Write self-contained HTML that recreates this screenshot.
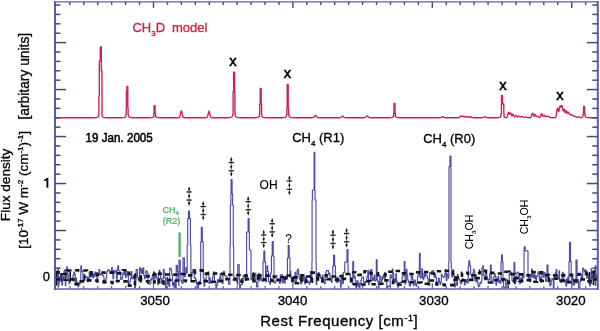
<!DOCTYPE html>
<html><head><meta charset="utf-8"><title>CH3D model spectrum</title>
<style>html,body{margin:0;padding:0;background:#fff;width:600px;height:331px;overflow:hidden}svg{display:block;will-change:transform;filter:blur(0.3px)}</style>
</head><body>
<svg width="600" height="331" viewBox="0 0 600 331">
<rect width="600" height="331" fill="#fff"/>
<path d="M55.50,117.70 L55.75,117.70 L56.00,117.70 L56.25,117.70 L56.50,117.70 L56.75,117.70 L57.00,117.70 L57.25,117.70 L57.50,117.70 L57.75,117.70 L58.00,117.70 L58.25,117.70 L58.50,117.70 L58.75,117.70 L59.00,117.70 L59.25,117.70 L59.50,117.70 L59.75,117.70 L60.00,117.70 L60.25,117.70 L60.50,117.70 L60.75,117.70 L61.00,117.70 L61.25,117.70 L61.50,117.70 L61.75,117.70 L62.00,117.70 L62.25,117.70 L62.50,117.70 L62.75,117.70 L63.00,117.70 L63.25,117.70 L63.50,117.70 L63.75,117.70 L64.00,117.70 L64.25,117.70 L64.50,117.70 L64.75,117.70 L65.00,117.70 L65.25,117.70 L65.50,117.70 L65.75,117.70 L66.00,117.70 L66.25,117.70 L66.50,117.70 L66.75,117.70 L67.00,117.70 L67.25,117.70 L67.50,117.70 L67.75,117.70 L68.00,117.70 L68.25,117.70 L68.50,117.70 L68.75,117.70 L69.00,117.70 L69.25,117.70 L69.50,117.70 L69.75,117.70 L70.00,117.70 L70.25,117.70 L70.50,117.70 L70.75,117.70 L71.00,117.70 L71.25,117.70 L71.50,117.70 L71.75,117.70 L72.00,117.70 L72.25,117.70 L72.50,117.70 L72.75,117.70 L73.00,117.70 L73.25,117.70 L73.50,117.70 L73.75,117.70 L74.00,117.70 L74.25,117.70 L74.50,117.70 L74.75,117.70 L75.00,117.70 L75.25,117.70 L75.50,117.70 L75.75,117.70 L76.00,117.70 L76.25,117.70 L76.50,117.70 L76.75,117.70 L77.00,117.70 L77.25,117.70 L77.50,117.70 L77.75,117.70 L78.00,117.70 L78.25,117.70 L78.50,117.70 L78.75,117.70 L79.00,117.70 L79.25,117.70 L79.50,117.70 L79.75,117.70 L80.00,117.70 L80.25,117.70 L80.50,117.70 L80.75,117.70 L81.00,117.70 L81.25,117.70 L81.50,117.70 L81.75,117.70 L82.00,117.70 L82.25,117.70 L82.50,117.70 L82.75,117.70 L83.00,117.70 L83.25,117.70 L83.50,117.70 L83.75,117.70 L84.00,117.70 L84.25,117.70 L84.50,117.70 L84.75,117.70 L85.00,117.70 L85.25,117.70 L85.50,117.70 L85.75,117.70 L86.00,117.70 L86.25,117.70 L86.50,117.70 L86.75,117.70 L87.00,117.70 L87.25,117.70 L87.50,117.70 L87.75,117.70 L88.00,117.70 L88.25,117.70 L88.50,117.70 L88.75,117.70 L89.00,117.70 L89.25,117.70 L89.50,117.70 L89.75,117.70 L90.00,117.70 L90.25,117.70 L90.50,117.70 L90.75,117.70 L91.00,117.70 L91.25,117.70 L91.50,117.70 L91.75,117.70 L92.00,117.70 L92.25,117.70 L92.50,117.70 L92.75,117.70 L93.00,117.70 L93.25,117.70 L93.50,117.70 L93.75,117.70 L94.00,117.70 L94.25,117.70 L94.50,117.70 L94.75,117.70 L95.00,117.70 L95.25,117.69 L95.50,117.68 L95.75,117.67 L96.00,117.66 L96.25,117.63 L96.50,117.59 L96.75,117.53 L97.00,117.45 L97.25,117.35 L97.50,117.21 L97.75,117.03 L98.00,116.81 L98.25,116.55 L98.50,116.27 L98.75,115.95 L98.80,114.00 L98.90,114.00 L98.90,96.00 L99.00,96.00 L99.00,96.00 L99.25,96.00 L99.25,96.00 L99.30,96.00 L99.30,60.80 L99.50,60.80 L99.50,60.80 L99.75,60.80 L99.75,60.80 L100.00,60.80 L100.00,60.80 L100.25,60.80 L100.25,60.80 L100.30,60.80 L100.30,47.00 L100.50,47.00 L100.50,47.00 L100.75,47.00 L100.75,47.00 L101.00,47.00 L101.00,47.00 L101.25,47.00 L101.25,47.00 L101.30,47.00 L101.30,71.00 L101.50,71.00 L101.50,71.00 L101.75,71.00 L101.75,71.00 L101.90,71.00 L101.90,71.00 L102.00,71.00 L102.00,115.89 L102.25,116.20 L102.50,116.50 L102.75,116.76 L103.00,116.99 L103.25,117.17 L103.50,117.32 L103.75,117.44 L104.00,117.52 L104.25,117.58 L104.50,117.62 L104.75,117.65 L105.00,117.67 L105.25,117.68 L105.50,117.69 L105.75,117.69 L106.00,117.70 L106.25,117.70 L106.50,117.70 L106.75,117.70 L107.00,117.70 L107.25,117.70 L107.50,117.70 L107.75,117.70 L108.00,117.70 L108.25,117.70 L108.50,117.70 L108.75,117.70 L109.00,117.70 L109.25,117.70 L109.50,117.70 L109.75,117.70 L110.00,117.70 L110.25,117.70 L110.50,117.70 L110.75,117.70 L111.00,117.70 L111.25,117.70 L111.50,117.70 L111.75,117.70 L112.00,117.70 L112.25,117.70 L112.50,117.70 L112.75,117.70 L113.00,117.70 L113.25,117.70 L113.50,117.70 L113.75,117.70 L114.00,117.70 L114.25,117.70 L114.50,117.70 L114.75,117.70 L115.00,117.70 L115.25,117.70 L115.50,117.70 L115.75,117.70 L116.00,117.70 L116.25,117.70 L116.50,117.70 L116.75,117.70 L117.00,117.70 L117.25,117.70 L117.50,117.70 L117.75,117.70 L118.00,117.70 L118.25,117.70 L118.50,117.70 L118.75,117.70 L119.00,117.70 L119.25,117.70 L119.50,117.70 L119.75,117.70 L120.00,117.70 L120.25,117.70 L120.50,117.70 L120.75,117.70 L121.00,117.70 L121.25,117.70 L121.50,117.70 L121.75,117.70 L122.00,117.70 L122.25,117.70 L122.50,117.69 L122.75,117.69 L123.00,117.68 L123.25,117.66 L123.50,117.63 L123.75,117.59 L124.00,117.54 L124.25,117.46 L124.50,117.36 L124.75,117.22 L125.00,117.06 L125.25,116.87 L125.50,116.65 L125.75,116.41 L126.00,114.50 L126.20,114.50 L126.20,108.00 L126.25,108.00 L126.25,108.00 L126.40,108.00 L126.40,90.70 L126.50,90.70 L126.50,90.70 L126.75,90.70 L126.75,90.70 L126.90,90.70 L126.90,86.40 L127.00,86.40 L127.00,86.40 L127.25,86.40 L127.25,86.40 L127.50,86.40 L127.50,86.40 L127.75,86.40 L127.75,86.40 L127.80,86.40 L127.80,108.00 L128.00,108.00 L128.00,108.00 L128.10,108.00 L128.10,114.50 L128.25,114.50 L128.25,114.50 L128.30,114.50 L128.30,116.08 L128.50,116.27 L128.75,116.51 L129.00,116.74 L129.25,116.95 L129.50,117.13 L129.75,117.28 L130.00,117.40 L130.25,117.49 L130.50,117.56 L130.75,117.61 L131.00,117.64 L131.25,117.67 L131.50,117.68 L131.75,117.69 L132.00,117.69 L132.25,117.70 L132.50,117.70 L132.75,117.70 L133.00,117.70 L133.25,117.70 L133.50,117.70 L133.75,117.70 L134.00,117.70 L134.25,117.70 L134.50,117.70 L134.75,117.70 L135.00,117.70 L135.25,117.70 L135.50,117.70 L135.75,117.70 L136.00,117.70 L136.25,117.70 L136.50,117.70 L136.75,117.70 L137.00,117.70 L137.25,117.70 L137.50,117.70 L137.75,117.70 L138.00,117.70 L138.25,117.70 L138.50,117.70 L138.75,117.70 L139.00,117.70 L139.25,117.70 L139.50,117.70 L139.75,117.70 L140.00,117.70 L140.25,117.70 L140.50,117.70 L140.75,117.70 L141.00,117.70 L141.25,117.70 L141.50,117.70 L141.75,117.70 L142.00,117.70 L142.25,117.70 L142.50,117.70 L142.75,117.70 L143.00,117.70 L143.25,117.70 L143.50,117.70 L143.75,117.70 L144.00,117.70 L144.25,117.70 L144.50,117.70 L144.75,117.70 L145.00,117.70 L145.25,117.70 L145.50,117.70 L145.75,117.70 L146.00,117.70 L146.25,117.70 L146.50,117.70 L146.75,117.70 L147.00,117.70 L147.25,117.70 L147.50,117.70 L147.75,117.70 L148.00,117.70 L148.25,117.70 L148.50,117.70 L148.75,117.70 L149.00,117.70 L149.25,117.70 L149.50,117.70 L149.75,117.70 L150.00,117.70 L150.25,117.70 L150.50,117.69 L150.75,117.69 L151.00,117.68 L151.25,117.66 L151.50,117.64 L151.75,117.60 L152.00,117.54 L152.25,117.47 L152.50,117.37 L152.75,117.24 L153.00,117.09 L153.25,116.91 L153.50,116.73 L153.75,116.55 L153.80,113.00 L154.00,113.00 L154.00,113.00 L154.10,113.00 L154.10,105.60 L154.25,105.60 L154.25,105.60 L154.50,105.60 L154.50,105.60 L154.75,105.60 L154.75,105.60 L155.00,105.60 L155.00,105.60 L155.10,105.60 L155.10,113.00 L155.25,113.00 L155.25,113.00 L155.50,113.00 L155.50,116.32 L155.75,116.47 L156.00,116.66 L156.25,116.84 L156.50,117.02 L156.75,117.18 L157.00,117.32 L157.25,117.43 L157.50,117.51 L157.75,117.58 L158.00,117.62 L158.25,117.65 L158.50,117.67 L158.75,117.68 L159.00,117.69 L159.25,117.70 L159.50,117.70 L159.75,117.70 L160.00,117.70 L160.25,117.70 L160.50,117.70 L160.75,117.70 L161.00,117.70 L161.25,117.70 L161.50,117.70 L161.75,117.70 L162.00,117.70 L162.25,117.70 L162.50,117.70 L162.75,117.70 L163.00,117.70 L163.25,117.70 L163.50,117.70 L163.75,117.70 L164.00,117.70 L164.25,117.70 L164.50,117.70 L164.75,117.70 L165.00,117.70 L165.25,117.70 L165.50,117.70 L165.75,117.70 L166.00,117.70 L166.25,117.70 L166.50,117.70 L166.75,117.70 L167.00,117.70 L167.25,117.70 L167.50,117.70 L167.75,117.70 L168.00,117.70 L168.25,117.70 L168.50,117.70 L168.75,117.70 L169.00,117.70 L169.25,117.70 L169.50,117.70 L169.75,117.70 L170.00,117.70 L170.25,117.70 L170.50,117.70 L170.75,117.70 L171.00,117.70 L171.25,117.70 L171.50,117.70 L171.75,117.70 L172.00,117.70 L172.25,117.70 L172.50,117.70 L172.75,117.70 L173.00,117.70 L173.25,117.70 L173.50,117.70 L173.75,117.70 L174.00,117.70 L174.25,117.70 L174.50,117.70 L174.75,117.70 L175.00,117.70 L175.25,117.70 L175.50,117.70 L175.75,117.70 L176.00,117.70 L176.25,117.70 L176.50,117.70 L176.75,117.70 L177.00,117.70 L177.25,117.70 L177.50,117.70 L177.75,117.70 L178.00,117.70 L178.25,117.70 L178.50,117.69 L178.75,117.66 L179.00,117.59 L179.25,117.44 L179.50,117.16 L179.75,116.66 L180.00,115.88 L180.25,114.83 L180.50,113.58 L180.75,112.33 L181.00,111.36 L181.25,110.91 L181.50,111.11 L181.75,111.90 L182.00,113.06 L182.25,114.34 L182.50,115.49 L182.75,116.38 L183.00,116.99 L183.25,117.35 L183.50,117.54 L183.75,117.64 L184.00,117.68 L184.25,117.69 L184.50,117.70 L184.75,117.70 L185.00,117.70 L185.25,117.70 L185.50,117.70 L185.75,117.70 L186.00,117.70 L186.25,117.70 L186.50,117.70 L186.75,117.70 L187.00,117.70 L187.25,117.70 L187.50,117.70 L187.75,117.70 L188.00,117.70 L188.25,117.70 L188.50,117.70 L188.75,117.70 L189.00,117.70 L189.25,117.70 L189.50,117.70 L189.75,117.70 L190.00,117.70 L190.25,117.70 L190.50,117.70 L190.75,117.70 L191.00,117.70 L191.25,117.70 L191.50,117.70 L191.75,117.70 L192.00,117.70 L192.25,117.70 L192.50,117.70 L192.75,117.70 L193.00,117.70 L193.25,117.70 L193.50,117.70 L193.75,117.70 L194.00,117.70 L194.25,117.70 L194.50,117.70 L194.75,117.70 L195.00,117.70 L195.25,117.70 L195.50,117.70 L195.75,117.70 L196.00,117.70 L196.25,117.70 L196.50,117.70 L196.75,117.70 L197.00,117.70 L197.25,117.70 L197.50,117.70 L197.75,117.70 L198.00,117.70 L198.25,117.70 L198.50,117.70 L198.75,117.70 L199.00,117.70 L199.25,117.70 L199.50,117.70 L199.75,117.70 L200.00,117.70 L200.25,117.70 L200.50,117.70 L200.75,117.70 L201.00,117.70 L201.25,117.70 L201.50,117.70 L201.75,117.70 L202.00,117.70 L202.25,117.70 L202.50,117.70 L202.75,117.70 L203.00,117.70 L203.25,117.70 L203.50,117.70 L203.75,117.70 L204.00,117.70 L204.25,117.70 L204.50,117.70 L204.75,117.70 L205.00,117.70 L205.25,117.70 L205.50,117.70 L205.75,117.70 L206.00,117.69 L206.25,117.68 L206.50,117.65 L206.75,117.58 L207.00,117.42 L207.25,117.12 L207.50,116.60 L207.75,115.81 L208.00,114.77 L208.25,113.58 L208.50,112.44 L208.75,111.60 L209.00,111.30 L209.25,111.60 L209.50,112.44 L209.75,113.58 L210.00,114.77 L210.25,115.81 L210.50,116.60 L210.75,117.12 L211.00,117.42 L211.25,117.58 L211.50,117.65 L211.75,117.68 L212.00,117.69 L212.25,117.70 L212.50,117.70 L212.75,117.70 L213.00,117.70 L213.25,117.70 L213.50,117.70 L213.75,117.70 L214.00,117.70 L214.25,117.70 L214.50,117.70 L214.75,117.70 L215.00,117.70 L215.25,117.70 L215.50,117.70 L215.75,117.70 L216.00,117.70 L216.25,117.70 L216.50,117.70 L216.75,117.70 L217.00,117.70 L217.25,117.70 L217.50,117.70 L217.75,117.70 L218.00,117.70 L218.25,117.70 L218.50,117.70 L218.75,117.70 L219.00,117.70 L219.25,117.70 L219.50,117.70 L219.75,117.70 L220.00,117.70 L220.25,117.70 L220.50,117.70 L220.75,117.70 L221.00,117.70 L221.25,117.70 L221.50,117.70 L221.75,117.70 L222.00,117.70 L222.25,117.70 L222.50,117.70 L222.75,117.70 L223.00,117.70 L223.25,117.70 L223.50,117.70 L223.75,117.70 L224.00,117.70 L224.25,117.70 L224.50,117.70 L224.75,117.70 L225.00,117.70 L225.25,117.70 L225.50,117.70 L225.75,117.70 L226.00,117.70 L226.25,117.70 L226.50,117.70 L226.75,117.70 L227.00,117.70 L227.25,117.70 L227.50,117.70 L227.75,117.70 L228.00,117.70 L228.25,117.70 L228.50,117.70 L228.75,117.69 L229.00,117.69 L229.25,117.68 L229.50,117.67 L229.75,117.65 L230.00,117.63 L230.25,117.59 L230.50,117.53 L230.75,117.45 L231.00,117.35 L231.25,117.22 L231.50,117.05 L231.75,116.86 L232.00,116.63 L232.25,116.38 L232.50,116.12 L232.75,115.86 L232.80,114.00 L233.00,114.00 L233.00,114.00 L233.10,114.00 L233.10,91.40 L233.25,91.40 L233.25,91.40 L233.50,91.40 L233.50,91.40 L233.60,91.40 L233.60,72.20 L233.75,72.20 L233.75,72.20 L234.00,72.20 L234.00,72.20 L234.25,72.20 L234.25,72.20 L234.50,72.20 L234.50,72.20 L234.60,72.20 L234.60,91.40 L234.75,91.40 L234.75,91.40 L234.90,91.40 L234.90,114.00 L235.00,114.00 L235.00,114.00 L235.25,114.00 L235.25,114.00 L235.30,114.00 L235.30,115.91 L235.50,116.12 L235.75,116.38 L236.00,116.63 L236.25,116.86 L236.50,117.05 L236.75,117.22 L237.00,117.35 L237.25,117.45 L237.50,117.53 L237.75,117.59 L238.00,117.63 L238.25,117.65 L238.50,117.67 L238.75,117.68 L239.00,117.69 L239.25,117.69 L239.50,117.70 L239.75,117.70 L240.00,117.70 L240.25,117.70 L240.50,117.70 L240.75,117.70 L241.00,117.70 L241.25,117.70 L241.50,117.70 L241.75,117.70 L242.00,117.70 L242.25,117.70 L242.50,117.70 L242.75,117.70 L243.00,117.70 L243.25,117.70 L243.50,117.70 L243.75,117.70 L244.00,117.70 L244.25,117.70 L244.50,117.70 L244.75,117.70 L245.00,117.70 L245.25,117.70 L245.50,117.70 L245.75,117.70 L246.00,117.70 L246.25,117.70 L246.50,117.70 L246.75,117.70 L247.00,117.70 L247.25,117.70 L247.50,117.70 L247.75,117.70 L248.00,117.70 L248.25,117.70 L248.50,117.70 L248.75,117.70 L249.00,117.70 L249.25,117.70 L249.50,117.70 L249.75,117.70 L250.00,117.70 L250.25,117.70 L250.50,117.70 L250.75,117.70 L251.00,117.70 L251.25,117.70 L251.50,117.70 L251.75,117.70 L252.00,117.70 L252.25,117.70 L252.50,117.70 L252.75,117.70 L253.00,117.70 L253.25,117.70 L253.50,117.70 L253.75,117.70 L254.00,117.70 L254.25,117.70 L254.50,117.70 L254.75,117.70 L255.00,117.70 L255.25,117.70 L255.50,117.70 L255.75,117.69 L256.00,117.69 L256.25,117.68 L256.50,117.67 L256.75,117.64 L257.00,117.61 L257.25,117.56 L257.50,117.50 L257.75,117.41 L258.00,117.29 L258.25,117.15 L258.50,116.98 L258.75,116.78 L259.00,116.57 L259.25,116.36 L259.50,114.50 L259.70,114.50 L259.70,104.00 L259.75,104.00 L259.75,104.00 L260.00,104.00 L260.00,104.00 L260.20,104.00 L260.20,88.50 L260.25,88.50 L260.25,88.50 L260.50,88.50 L260.50,88.50 L260.75,88.50 L260.75,88.50 L261.00,88.50 L261.00,88.50 L261.20,88.50 L261.20,104.00 L261.25,104.00 L261.25,104.00 L261.50,104.00 L261.50,104.00 L261.60,104.00 L261.60,114.50 L261.75,114.50 L261.75,114.50 L261.80,114.50 L261.80,116.40 L262.00,116.57 L262.25,116.78 L262.50,116.98 L262.75,117.15 L263.00,117.29 L263.25,117.41 L263.50,117.50 L263.75,117.56 L264.00,117.61 L264.25,117.64 L264.50,117.67 L264.75,117.68 L265.00,117.69 L265.25,117.69 L265.50,117.70 L265.75,117.70 L266.00,117.70 L266.25,117.70 L266.50,117.70 L266.75,117.70 L267.00,117.70 L267.25,117.70 L267.50,117.70 L267.75,117.70 L268.00,117.70 L268.25,117.70 L268.50,117.70 L268.75,117.70 L269.00,117.70 L269.25,117.70 L269.50,117.70 L269.75,117.70 L270.00,117.70 L270.25,117.70 L270.50,117.70 L270.75,117.70 L271.00,117.70 L271.25,117.70 L271.50,117.70 L271.75,117.70 L272.00,117.70 L272.25,117.70 L272.50,117.70 L272.75,117.70 L273.00,117.70 L273.25,117.70 L273.50,117.70 L273.75,117.70 L274.00,117.70 L274.25,117.70 L274.50,117.70 L274.75,117.70 L275.00,117.70 L275.25,117.70 L275.50,117.70 L275.75,117.70 L276.00,117.70 L276.25,117.70 L276.50,117.70 L276.75,117.70 L277.00,117.70 L277.25,117.70 L277.50,117.70 L277.75,117.70 L278.00,117.70 L278.25,117.70 L278.50,117.70 L278.75,117.70 L279.00,117.70 L279.25,117.70 L279.50,117.70 L279.75,117.70 L280.00,117.70 L280.25,117.70 L280.50,117.70 L280.75,117.70 L281.00,117.70 L281.25,117.70 L281.50,117.70 L281.75,117.70 L282.00,117.70 L282.25,117.70 L282.50,117.70 L282.75,117.70 L283.00,117.69 L283.25,117.69 L283.50,117.68 L283.75,117.66 L284.00,117.63 L284.25,117.59 L284.50,117.54 L284.75,117.46 L285.00,117.36 L285.25,117.22 L285.50,117.06 L285.75,116.87 L286.00,116.65 L286.25,116.41 L286.50,116.18 L286.60,114.50 L286.75,114.50 L286.75,114.50 L286.90,114.50 L286.90,108.00 L287.00,108.00 L287.00,108.00 L287.20,108.00 L287.20,84.50 L287.25,84.50 L287.25,84.50 L287.50,84.50 L287.50,84.50 L287.75,84.50 L287.75,84.50 L288.00,84.50 L288.00,84.50 L288.20,84.50 L288.20,108.00 L288.25,108.00 L288.25,108.00 L288.50,108.00 L288.50,108.00 L288.60,108.00 L288.60,114.50 L288.75,114.50 L288.75,114.50 L288.90,114.50 L288.90,116.18 L289.00,116.27 L289.25,116.51 L289.50,116.74 L289.75,116.95 L290.00,117.13 L290.25,117.28 L290.50,117.40 L290.75,117.49 L291.00,117.56 L291.25,117.61 L291.50,117.64 L291.75,117.67 L292.00,117.68 L292.25,117.69 L292.50,117.69 L292.75,117.70 L293.00,117.70 L293.25,117.70 L293.50,117.70 L293.75,117.70 L294.00,117.70 L294.25,117.70 L294.50,117.70 L294.75,117.70 L295.00,117.70 L295.25,117.70 L295.50,117.70 L295.75,117.70 L296.00,117.70 L296.25,117.70 L296.50,117.70 L296.75,117.70 L297.00,117.70 L297.25,117.70 L297.50,117.70 L297.75,117.70 L298.00,117.70 L298.25,117.70 L298.50,117.70 L298.75,117.70 L299.00,117.70 L299.25,117.70 L299.50,117.70 L299.75,117.70 L300.00,117.70 L300.25,117.70 L300.50,117.70 L300.75,117.70 L301.00,117.70 L301.25,117.70 L301.50,117.70 L301.75,117.70 L302.00,117.70 L302.25,117.70 L302.50,117.70 L302.75,117.70 L303.00,117.70 L303.25,117.70 L303.50,117.70 L303.75,117.70 L304.00,117.70 L304.25,117.70 L304.50,117.70 L304.75,117.70 L305.00,117.70 L305.25,117.70 L305.50,117.70 L305.75,117.70 L306.00,117.70 L306.25,117.70 L306.50,117.70 L306.75,117.70 L307.00,117.70 L307.25,117.70 L307.50,117.70 L307.75,117.70 L308.00,117.70 L308.25,117.70 L308.50,117.70 L308.75,117.70 L309.00,117.70 L309.25,117.70 L309.50,117.70 L309.75,117.70 L310.00,117.70 L310.25,117.70 L310.50,117.70 L310.75,117.70 L311.00,117.70 L311.25,117.70 L311.50,117.70 L311.75,117.70 L312.00,117.70 L312.25,117.69 L312.50,117.69 L312.75,117.67 L313.00,117.63 L313.25,117.57 L313.50,117.45 L313.75,117.27 L314.00,117.01 L314.25,116.68 L314.50,116.30 L314.75,115.93 L315.00,115.62 L315.25,115.43 L315.50,115.41 L315.75,115.57 L316.00,115.86 L316.25,116.23 L316.50,116.61 L316.75,116.95 L317.00,117.23 L317.25,117.42 L317.50,117.55 L317.75,117.62 L318.00,117.66 L318.25,117.68 L318.50,117.69 L318.75,117.70 L319.00,117.70 L319.25,117.70 L319.50,117.70 L319.75,117.70 L320.00,117.70 L320.25,117.70 L320.50,117.70 L320.75,117.70 L321.00,117.70 L321.25,117.70 L321.50,117.70 L321.75,117.70 L322.00,117.70 L322.25,117.70 L322.50,117.70 L322.75,117.70 L323.00,117.70 L323.25,117.70 L323.50,117.70 L323.75,117.70 L324.00,117.70 L324.25,117.70 L324.50,117.70 L324.75,117.70 L325.00,117.70 L325.25,117.70 L325.50,117.70 L325.75,117.70 L326.00,117.70 L326.25,117.70 L326.50,117.70 L326.75,117.70 L327.00,117.70 L327.25,117.70 L327.50,117.70 L327.75,117.70 L328.00,117.70 L328.25,117.70 L328.50,117.70 L328.75,117.70 L329.00,117.70 L329.25,117.70 L329.50,117.70 L329.75,117.70 L330.00,117.70 L330.25,117.70 L330.50,117.70 L330.75,117.70 L331.00,117.70 L331.25,117.70 L331.50,117.70 L331.75,117.70 L332.00,117.70 L332.25,117.70 L332.50,117.70 L332.75,117.70 L333.00,117.70 L333.25,117.70 L333.50,117.70 L333.75,117.70 L334.00,117.70 L334.25,117.70 L334.50,117.70 L334.75,117.70 L335.00,117.70 L335.25,117.70 L335.50,117.70 L335.75,117.70 L336.00,117.70 L336.25,117.70 L336.50,117.70 L336.75,117.70 L337.00,117.70 L337.25,117.70 L337.50,117.70 L337.75,117.70 L338.00,117.70 L338.25,117.70 L338.50,117.70 L338.75,117.70 L339.00,117.70 L339.25,117.70 L339.50,117.70 L339.75,117.69 L340.00,117.68 L340.25,117.65 L340.50,117.59 L340.75,117.51 L341.00,117.37 L341.25,117.18 L341.50,116.94 L341.75,116.68 L342.00,116.42 L342.25,116.22 L342.50,116.11 L342.75,116.12 L343.00,116.25 L343.25,116.47 L343.50,116.73 L343.75,116.99 L344.00,117.22 L344.25,117.40 L344.50,117.53 L344.75,117.61 L345.00,117.65 L345.25,117.68 L345.50,117.69 L345.75,117.70 L346.00,117.70 L346.25,117.70 L346.50,117.70 L346.75,117.70 L347.00,117.70 L347.25,117.70 L347.50,117.70 L347.75,117.70 L348.00,117.70 L348.25,117.70 L348.50,117.70 L348.75,117.70 L349.00,117.70 L349.25,117.70 L349.50,117.70 L349.75,117.70 L350.00,117.70 L350.25,117.70 L350.50,117.70 L350.75,117.70 L351.00,117.70 L351.25,117.70 L351.50,117.70 L351.75,117.70 L352.00,117.70 L352.25,117.70 L352.50,117.70 L352.75,117.70 L353.00,117.70 L353.25,117.70 L353.50,117.70 L353.75,117.70 L354.00,117.70 L354.25,117.70 L354.50,117.70 L354.75,117.70 L355.00,117.70 L355.25,117.70 L355.50,117.70 L355.75,117.70 L356.00,117.70 L356.25,117.70 L356.50,117.70 L356.75,117.70 L357.00,117.70 L357.25,117.70 L357.50,117.70 L357.75,117.70 L358.00,117.70 L358.25,117.70 L358.50,117.70 L358.75,117.70 L359.00,117.70 L359.25,117.70 L359.50,117.70 L359.75,117.70 L360.00,117.70 L360.25,117.70 L360.50,117.70 L360.75,117.70 L361.00,117.70 L361.25,117.70 L361.50,117.70 L361.75,117.70 L362.00,117.70 L362.25,117.70 L362.50,117.70 L362.75,117.70 L363.00,117.70 L363.25,117.70 L363.50,117.70 L363.75,117.70 L364.00,117.70 L364.25,117.69 L364.50,117.69 L364.75,117.67 L365.00,117.63 L365.25,117.57 L365.50,117.46 L365.75,117.29 L366.00,117.07 L366.25,116.79 L366.50,116.49 L366.75,116.21 L367.00,116.00 L367.25,115.90 L367.50,115.94 L367.75,116.11 L368.00,116.37 L368.25,116.67 L368.50,116.96 L368.75,117.21 L369.00,117.40 L369.25,117.53 L369.50,117.61 L369.75,117.66 L370.00,117.68 L370.25,117.69 L370.50,117.70 L370.75,117.70 L371.00,117.70 L371.25,117.70 L371.50,117.70 L371.75,117.70 L372.00,117.70 L372.25,117.70 L372.50,117.70 L372.75,117.70 L373.00,117.70 L373.25,117.70 L373.50,117.70 L373.75,117.70 L374.00,117.70 L374.25,117.70 L374.50,117.70 L374.75,117.70 L375.00,117.70 L375.25,117.70 L375.50,117.70 L375.75,117.70 L376.00,117.70 L376.25,117.70 L376.50,117.70 L376.75,117.70 L377.00,117.70 L377.25,117.70 L377.50,117.70 L377.75,117.70 L378.00,117.70 L378.25,117.70 L378.50,117.70 L378.75,117.70 L379.00,117.70 L379.25,117.70 L379.50,117.70 L379.75,117.70 L380.00,117.70 L380.25,117.70 L380.50,117.70 L380.75,117.70 L381.00,117.70 L381.25,117.70 L381.50,117.70 L381.75,117.70 L382.00,117.70 L382.25,117.70 L382.50,117.70 L382.75,117.70 L383.00,117.70 L383.25,117.70 L383.50,117.70 L383.75,117.70 L384.00,117.70 L384.25,117.70 L384.50,117.70 L384.75,117.70 L385.00,117.70 L385.25,117.70 L385.50,117.70 L385.75,117.70 L386.00,117.70 L386.25,117.70 L386.50,117.70 L386.75,117.70 L387.00,117.70 L387.25,117.70 L387.50,117.70 L387.75,117.70 L388.00,117.70 L388.25,117.70 L388.50,117.70 L388.75,117.70 L389.00,117.70 L389.25,117.70 L389.50,117.70 L389.75,117.70 L390.00,117.70 L390.25,117.69 L390.50,117.69 L390.75,117.68 L391.00,117.66 L391.25,117.63 L391.50,117.59 L391.75,117.53 L392.00,117.45 L392.25,117.34 L392.50,117.21 L392.75,117.05 L393.00,116.88 L393.25,116.69 L393.50,116.51 L393.70,113.00 L393.75,113.00 L393.75,113.00 L394.00,113.00 L394.00,103.30 L394.25,103.30 L394.25,103.30 L394.50,103.30 L394.50,103.30 L394.75,103.30 L394.75,103.30 L395.00,103.30 L395.00,113.00 L395.25,113.00 L395.25,113.00 L395.30,113.00 L395.30,116.38 L395.50,116.51 L395.75,116.69 L396.00,116.88 L396.25,117.05 L396.50,117.21 L396.75,117.34 L397.00,117.45 L397.25,117.53 L397.50,117.59 L397.75,117.63 L398.00,117.66 L398.25,117.68 L398.50,117.69 L398.75,117.69 L399.00,117.70 L399.25,117.70 L399.50,117.70 L399.75,117.70 L400.00,117.70 L400.25,117.70 L400.50,117.70 L400.75,117.70 L401.00,117.70 L401.25,117.70 L401.50,117.70 L401.75,117.70 L402.00,117.70 L402.25,117.70 L402.50,117.70 L402.75,117.70 L403.00,117.70 L403.25,117.70 L403.50,117.70 L403.75,117.70 L404.00,117.70 L404.25,117.70 L404.50,117.70 L404.75,117.70 L405.00,117.70 L405.25,117.70 L405.50,117.70 L405.75,117.70 L406.00,117.70 L406.25,117.70 L406.50,117.70 L406.75,117.70 L407.00,117.70 L407.25,117.70 L407.50,117.70 L407.75,117.70 L408.00,117.70 L408.25,117.70 L408.50,117.70 L408.75,117.70 L409.00,117.70 L409.25,117.70 L409.50,117.70 L409.75,117.70 L410.00,117.70 L410.25,117.70 L410.50,117.70 L410.75,117.70 L411.00,117.70 L411.25,117.70 L411.50,117.70 L411.75,117.70 L412.00,117.70 L412.25,117.70 L412.50,117.70 L412.75,117.70 L413.00,117.70 L413.25,117.70 L413.50,117.70 L413.75,117.70 L414.00,117.70 L414.25,117.70 L414.50,117.70 L414.75,117.70 L415.00,117.70 L415.25,117.70 L415.50,117.70 L415.75,117.70 L416.00,117.70 L416.25,117.70 L416.50,117.70 L416.75,117.70 L417.00,117.70 L417.25,117.70 L417.50,117.70 L417.75,117.70 L418.00,117.70 L418.25,117.70 L418.50,117.70 L418.75,117.70 L419.00,117.70 L419.25,117.70 L419.50,117.70 L419.75,117.70 L420.00,117.70 L420.25,117.70 L420.50,117.70 L420.75,117.70 L421.00,117.70 L421.25,117.70 L421.50,117.70 L421.75,117.70 L422.00,117.70 L422.25,117.70 L422.50,117.70 L422.75,117.70 L423.00,117.70 L423.25,117.70 L423.50,117.70 L423.75,117.70 L424.00,117.70 L424.25,117.70 L424.50,117.70 L424.75,117.70 L425.00,117.70 L425.25,117.70 L425.50,117.70 L425.75,117.70 L426.00,117.70 L426.25,117.70 L426.50,117.70 L426.75,117.70 L427.00,117.70 L427.25,117.70 L427.50,117.70 L427.75,117.70 L428.00,117.70 L428.25,117.70 L428.50,117.70 L428.75,117.70 L429.00,117.70 L429.25,117.70 L429.50,117.70 L429.75,117.70 L430.00,117.70 L430.25,117.70 L430.50,117.70 L430.75,117.70 L431.00,117.70 L431.25,117.70 L431.50,117.70 L431.75,117.70 L432.00,117.70 L432.25,117.70 L432.50,117.70 L432.75,117.70 L433.00,117.70 L433.25,117.70 L433.50,117.70 L433.75,117.70 L434.00,117.70 L434.25,117.70 L434.50,117.70 L434.75,117.70 L435.00,117.70 L435.25,117.70 L435.50,117.70 L435.75,117.70 L436.00,117.70 L436.25,117.70 L436.50,117.70 L436.75,117.70 L437.00,117.70 L437.25,117.70 L437.50,117.70 L437.75,117.70 L438.00,117.70 L438.25,117.70 L438.50,117.70 L438.75,117.70 L439.00,117.70 L439.25,117.70 L439.50,117.70 L439.75,117.69 L440.00,117.68 L440.25,117.66 L440.50,117.62 L440.75,117.55 L441.00,117.45 L441.25,117.32 L441.50,117.16 L441.75,116.99 L442.00,116.84 L442.25,116.74 L442.50,116.70 L442.75,116.74 L443.00,116.84 L443.25,116.99 L443.50,117.16 L443.75,117.32 L444.00,117.45 L444.25,117.55 L444.50,117.62 L444.75,117.66 L445.00,117.68 L445.25,117.69 L445.50,117.70 L445.75,117.70 L446.00,117.70 L446.25,117.70 L446.50,117.70 L446.75,117.70 L447.00,117.70 L447.25,117.70 L447.50,117.70 L447.75,117.70 L448.00,117.70 L448.25,117.70 L448.50,117.70 L448.75,117.70 L449.00,117.70 L449.25,117.70 L449.50,117.70 L449.75,117.70 L450.00,117.70 L450.25,117.70 L450.50,117.70 L450.75,117.70 L451.00,117.70 L451.25,117.70 L451.50,117.70 L451.75,117.70 L452.00,117.70 L452.25,117.70 L452.50,117.70 L452.75,117.70 L453.00,117.70 L453.25,117.70 L453.50,117.70 L453.75,117.70 L454.00,117.70 L454.25,117.70 L454.50,117.70 L454.75,117.70 L455.00,117.70 L455.25,117.70 L455.50,117.70 L455.75,117.70 L456.00,117.70 L456.25,117.70 L456.50,117.70 L456.75,117.70 L457.00,117.70 L457.25,117.70 L457.50,117.70 L457.75,117.70 L458.00,117.70 L458.25,117.70 L458.50,117.70 L458.75,117.69 L459.00,117.67 L459.25,117.62 L459.50,117.52 L459.75,117.33 L460.00,117.05 L460.25,116.69 L460.50,116.30 L460.75,116.00 L461.00,115.87 L461.25,115.95 L461.50,116.15 L461.75,116.38 L462.00,116.51 L462.25,116.49 L462.50,116.36 L462.75,116.21 L463.00,116.17 L463.25,116.27 L463.50,116.51 L463.75,116.79 L464.00,117.02 L464.25,117.11 L464.50,117.04 L464.75,116.85 L465.00,116.59 L465.25,116.38 L465.50,116.30 L465.75,116.38 L466.00,116.59 L466.25,116.86 L466.50,117.07 L466.75,117.17 L467.00,117.13 L467.25,116.96 L467.50,116.75 L467.75,116.57 L468.00,116.50 L468.25,116.57 L468.50,116.77 L468.75,117.02 L469.00,117.25 L469.25,117.41 L469.50,117.48 L469.75,117.44 L470.00,117.32 L470.25,117.13 L470.50,116.92 L470.75,116.76 L471.00,116.70 L471.25,116.76 L471.50,116.93 L471.75,117.14 L472.00,117.34 L472.25,117.50 L472.50,117.60 L472.75,117.66 L473.00,117.68 L473.25,117.69 L473.50,117.70 L473.75,117.70 L474.00,117.70 L474.25,117.70 L474.50,117.70 L474.75,117.70 L475.00,117.70 L475.25,117.70 L475.50,117.70 L475.75,117.70 L476.00,117.70 L476.25,117.70 L476.50,117.70 L476.75,117.70 L477.00,117.70 L477.25,117.70 L477.50,117.70 L477.75,117.70 L478.00,117.70 L478.25,117.70 L478.50,117.70 L478.75,117.70 L479.00,117.70 L479.25,117.70 L479.50,117.70 L479.75,117.70 L480.00,117.70 L480.25,117.70 L480.50,117.70 L480.75,117.70 L481.00,117.70 L481.25,117.70 L481.50,117.70 L481.75,117.70 L482.00,117.69 L482.25,117.68 L482.50,117.66 L482.75,117.63 L483.00,117.56 L483.25,117.47 L483.50,117.35 L483.75,117.19 L484.00,117.03 L484.25,116.87 L484.50,116.75 L484.75,116.70 L485.00,116.72 L485.25,116.82 L485.50,116.96 L485.75,117.13 L486.00,117.29 L486.25,117.43 L486.50,117.53 L486.75,117.60 L487.00,117.65 L487.25,117.68 L487.50,117.69 L487.75,117.70 L488.00,117.70 L488.25,117.70 L488.50,117.70 L488.75,117.70 L489.00,117.70 L489.25,117.70 L489.50,117.70 L489.75,117.70 L490.00,117.70 L490.25,117.70 L490.50,117.70 L490.75,117.70 L491.00,117.70 L491.25,117.70 L491.50,117.70 L491.75,117.70 L492.00,117.70 L492.25,117.70 L492.50,117.70 L492.75,117.70 L493.00,117.70 L493.25,117.70 L493.50,117.70 L493.75,117.70 L494.00,117.70 L494.25,117.70 L494.50,117.70 L494.75,117.70 L495.00,117.70 L495.25,117.70 L495.50,117.70 L495.75,117.70 L496.00,117.70 L496.25,117.70 L496.50,117.70 L496.75,117.70 L497.00,117.70 L497.25,117.70 L497.50,117.69 L497.75,117.69 L498.00,117.68 L498.25,117.66 L498.50,117.64 L498.75,117.60 L499.00,117.55 L499.25,117.48 L499.50,117.39 L499.75,117.27 L500.00,117.12 L500.25,116.94 L500.50,116.74 L500.75,116.53 L501.00,114.00 L501.25,114.00 L501.25,114.00 L501.40,114.00 L501.40,104.00 L501.50,104.00 L501.50,95.40 L501.75,95.40 L501.75,95.40 L502.00,95.40 L502.00,95.40 L502.25,95.40 L502.25,95.40 L502.50,95.40 L502.50,104.00 L502.75,104.00 L502.75,104.00 L503.00,104.00 L503.00,104.00 L503.25,104.00 L503.25,104.00 L503.50,104.00 L503.50,104.00 L503.75,104.00 L503.75,104.00 L503.80,104.00 L503.80,114.00 L504.00,114.00 L504.00,114.00 L504.10,114.00 L504.10,116.90 L504.25,117.02 L504.50,117.18 L504.75,117.32 L505.00,117.43 L505.25,117.51 L505.50,117.58 L505.75,117.62 L506.00,117.64 L506.25,117.64 L506.50,117.59 L506.75,117.45 L507.00,117.14 L507.25,116.58 L507.50,115.72 L507.75,114.60 L508.00,113.43 L508.25,112.52 L508.50,112.15 L508.75,112.39 L509.00,113.09 L509.25,113.85 L509.50,114.32 L509.75,114.29 L510.00,113.82 L510.25,113.22 L510.50,112.85 L510.75,112.96 L511.00,113.55 L511.25,114.42 L511.50,115.24 L511.75,115.72 L512.00,115.75 L512.25,115.37 L512.50,114.79 L512.75,114.28 L513.00,114.08 L513.25,114.31 L513.50,114.89 L513.75,115.63 L514.00,116.30 L514.25,116.76 L514.50,116.94 L514.75,116.86 L515.00,116.59 L515.25,116.20 L515.50,115.80 L515.75,115.51 L516.00,115.40 L516.25,115.51 L516.50,115.80 L516.75,116.19 L517.00,116.58 L517.25,116.88 L517.50,117.03 L517.75,117.02 L518.00,116.87 L518.25,116.62 L518.50,116.37 L518.75,116.17 L519.00,116.09 L519.25,116.16 L519.50,116.36 L519.75,116.62 L520.00,116.87 L520.25,117.05 L520.50,117.12 L520.75,117.10 L521.00,116.98 L521.25,116.82 L521.50,116.66 L521.75,116.54 L522.00,116.50 L522.25,116.54 L522.50,116.66 L522.75,116.84 L523.00,117.03 L523.25,117.19 L523.50,117.32 L523.75,117.39 L524.00,117.40 L524.25,117.37 L524.50,117.31 L524.75,117.24 L525.00,117.17 L525.25,117.12 L525.50,117.10 L525.75,117.12 L526.00,117.17 L526.25,117.25 L526.50,117.34 L526.75,117.43 L527.00,117.51 L527.25,117.57 L527.50,117.62 L527.75,117.65 L528.00,117.67 L528.25,117.69 L528.50,117.69 L528.75,117.70 L529.00,117.70 L529.25,117.70 L529.50,117.70 L529.75,117.70 L530.00,117.69 L530.25,117.67 L530.50,117.62 L530.75,117.50 L531.00,117.25 L531.25,116.79 L531.50,116.08 L531.75,115.17 L532.00,114.21 L532.25,113.48 L532.50,113.19 L532.75,113.46 L533.00,114.16 L533.25,115.02 L533.50,115.75 L533.75,116.12 L534.00,116.06 L534.25,115.64 L534.50,115.07 L534.75,114.57 L535.00,114.38 L535.25,114.57 L535.50,115.08 L535.75,115.70 L536.00,116.25 L536.25,116.59 L536.50,116.68 L536.75,116.59 L537.00,116.41 L537.25,116.25 L537.50,116.19 L537.75,116.27 L538.00,116.47 L538.25,116.73 L538.50,117.01 L538.75,117.26 L539.00,117.43 L539.25,117.54 L539.50,117.56 L539.75,117.49 L540.00,117.27 L540.25,116.84 L540.50,116.18 L540.75,115.33 L541.00,114.45 L541.25,113.76 L541.50,113.50 L541.75,113.74 L542.00,114.40 L542.25,115.22 L542.50,115.91 L542.75,116.30 L543.00,116.30 L543.25,115.99 L543.50,115.54 L543.75,115.14 L544.00,114.98 L544.25,115.14 L544.50,115.54 L544.75,116.04 L545.00,116.47 L545.25,116.71 L545.50,116.74 L545.75,116.61 L546.00,116.41 L546.25,116.23 L546.50,116.14 L546.75,116.16 L547.00,116.26 L547.25,116.38 L547.50,116.46 L547.75,116.48 L548.00,116.45 L548.25,116.42 L548.50,116.43 L548.75,116.53 L549.00,116.70 L549.25,116.92 L549.50,117.15 L549.75,117.35 L550.00,117.49 L550.25,117.59 L550.50,117.65 L550.75,117.68 L551.00,117.69 L551.25,117.70 L551.50,117.70 L551.75,117.70 L552.00,117.70 L552.25,117.70 L552.50,117.70 L552.75,117.70 L553.00,117.70 L553.25,117.70 L553.50,117.70 L553.75,117.70 L554.00,117.70 L554.25,117.70 L554.50,117.69 L554.75,117.67 L555.00,117.63 L555.25,117.52 L555.50,117.28 L555.75,116.83 L556.00,116.06 L556.25,114.90 L556.50,113.35 L556.75,111.58 L557.00,109.88 L557.25,108.62 L557.50,108.11 L557.75,108.44 L558.00,109.39 L558.25,110.55 L558.50,111.40 L558.75,111.56 L559.00,110.88 L559.25,109.52 L559.50,107.90 L559.75,106.53 L560.00,105.82 L560.25,105.85 L560.50,106.40 L560.75,106.99 L561.00,107.21 L561.25,106.89 L561.50,106.20 L561.75,105.60 L562.00,105.54 L562.25,106.27 L562.50,107.64 L562.75,109.23 L563.00,110.49 L563.25,111.01 L563.50,110.72 L563.75,109.96 L564.00,109.29 L564.25,109.21 L564.50,109.88 L564.75,111.06 L565.00,112.21 L565.25,112.83 L565.50,112.70 L565.75,111.99 L566.00,111.17 L566.25,110.73 L566.50,110.94 L566.75,111.70 L567.00,112.63 L567.25,113.27 L567.50,113.37 L567.75,112.99 L568.00,112.45 L568.25,112.15 L568.50,112.29 L568.75,112.85 L569.00,113.57 L569.25,114.15 L569.50,114.42 L569.75,114.39 L570.00,114.23 L570.25,114.15 L570.50,114.25 L570.75,114.55 L571.00,114.93 L571.25,115.25 L571.50,115.40 L571.75,115.36 L572.00,115.20 L572.25,115.04 L572.50,114.99 L572.75,115.13 L573.00,115.42 L573.25,115.79 L573.50,116.13 L573.75,116.36 L574.00,116.44 L574.25,116.40 L574.50,116.30 L574.75,116.20 L575.00,116.17 L575.25,116.23 L575.50,116.38 L575.75,116.58 L576.00,116.78 L576.25,116.96 L576.50,117.07 L576.75,117.11 L577.00,117.09 L577.25,117.03 L577.50,116.96 L577.75,116.91 L578.00,116.89 L578.25,116.92 L578.50,116.99 L578.75,117.10 L579.00,117.21 L579.25,117.33 L579.50,117.44 L579.75,117.52 L580.00,117.58 L580.25,117.61 L580.50,117.63 L580.75,117.62 L581.00,117.59 L581.25,117.53 L581.50,117.45 L581.75,117.35 L582.00,117.21 L582.25,117.05 L582.50,116.86 L582.75,116.65 L583.00,116.44 L583.20,113.50 L583.25,113.50 L583.25,113.50 L583.50,113.50 L583.50,113.50 L583.60,113.50 L583.60,106.50 L583.75,106.50 L583.75,106.50 L584.00,106.50 L584.00,106.50 L584.25,106.50 L584.25,106.50 L584.50,106.50 L584.50,106.50 L584.60,106.50 L584.60,113.50 L584.75,113.50 L584.75,113.50 L585.00,113.50 L585.00,113.50 L585.10,113.50 L585.10,116.36 L585.25,116.48 L585.50,116.69 L585.75,116.90 L586.00,117.08 L586.25,117.24 L586.50,117.37 L586.75,117.47 L587.00,117.55 L587.25,117.60 L587.50,117.64 L587.75,117.67 L588.00,117.68 L588.25,117.69 L588.50,117.69 L588.75,117.70 L589.00,117.70 L589.25,117.70 L589.50,117.70 L589.75,117.70 L590.00,117.70 L590.25,117.70 L590.50,117.70 L590.75,117.70 L591.00,117.70 L591.25,117.70 L591.50,117.70 L591.75,117.70 L592.00,117.70 L592.25,117.70 L592.50,117.70 L592.75,117.70 L593.00,117.70 L593.25,117.70 L593.50,117.70 L593.75,117.70 L594.00,117.70 L594.25,117.70 L594.50,117.70 L594.75,117.70 L595.00,117.70 L595.25,117.70 L595.50,117.70 L595.75,117.70 L596.00,117.70 L596.25,117.70 L596.50,117.70 L596.75,117.70 L597.00,117.70" fill="none" stroke="#cf2149" stroke-width="1.35" stroke-linejoin="round"/>
<line x1="179.6" y1="232.4" x2="179.6" y2="257" stroke="#3fae5a" stroke-width="2.2"/>
<path d="M55.60,283.44 L56.30,283.44 L56.30,279.54 L57.00,279.54 L57.00,274.80 L57.70,274.80 L57.70,278.53 L58.40,278.53 L58.40,284.01 L59.10,284.01 L59.10,281.72 L59.80,281.72 L59.80,278.17 L60.50,278.17 L60.50,273.62 L61.20,273.62 L61.20,280.83 L61.90,280.83 L61.90,285.12 L62.60,285.12 L62.60,279.09 L63.30,279.09 L63.30,276.74 L64.00,276.74 L64.00,271.00 L64.70,271.00 L64.70,270.16 L65.40,270.16 L65.40,274.25 L66.10,274.25 L66.10,277.22 L66.80,277.22 L66.80,266.91 L67.50,266.91 L67.50,273.25 L68.20,273.25 L68.20,278.82 L68.90,278.82 L68.90,283.37 L69.60,283.37 L69.60,280.69 L70.30,280.69 L70.30,279.00 L71.00,279.00 L71.00,280.13 L71.70,280.13 L71.70,279.57 L72.40,279.57 L72.40,277.85 L73.10,277.85 L73.10,275.15 L73.80,275.15 L73.80,271.96 L74.50,271.96 L74.50,273.93 L75.20,273.93 L75.20,283.41 L75.90,283.41 L75.90,278.17 L76.60,278.17 L76.60,284.19 L77.30,284.19 L77.30,282.26 L78.00,282.26 L78.00,286.67 L78.70,286.67 L78.70,282.89 L79.40,282.89 L79.40,284.10 L80.10,284.10 L80.10,280.59 L80.80,280.59 L80.80,265.80 L81.50,265.80 L81.50,271.57 L82.20,271.57 L82.20,271.06 L82.90,271.06 L82.90,279.88 L83.60,279.88 L83.60,280.38 L84.30,280.38 L84.30,276.66 L85.00,276.66 L85.00,277.79 L85.70,277.79 L85.70,276.46 L86.40,276.46 L86.40,276.86 L87.10,276.86 L87.10,281.73 L87.80,281.73 L87.80,277.82 L88.50,277.82 L88.50,281.45 L89.20,281.45 L89.20,272.17 L89.90,272.17 L89.90,277.05 L90.60,277.05 L90.60,274.73 L91.30,274.73 L91.30,276.33 L92.00,276.33 L92.00,273.21 L92.70,273.21 L92.70,278.03 L93.40,278.03 L93.40,273.96 L94.10,273.96 L94.10,276.43 L94.80,276.43 L94.80,271.97 L95.50,271.97 L95.50,272.20 L96.20,272.20 L96.20,274.35 L96.90,274.35 L96.90,279.40 L97.60,279.40 L97.60,275.68 L98.30,275.68 L98.30,274.89 L99.00,274.89 L99.00,269.53 L99.70,269.53 L99.70,275.06 L100.40,275.06 L100.40,274.19 L101.10,274.19 L101.10,273.91 L101.80,273.91 L101.80,274.69 L102.50,274.69 L102.50,275.44 L103.20,275.44 L103.20,275.96 L103.90,275.96 L103.90,279.53 L104.60,279.53 L104.60,283.24 L105.30,283.24 L105.30,282.68 L106.00,282.68 L106.00,278.23 L106.70,278.23 L106.70,271.91 L107.40,271.91 L107.40,270.68 L108.10,270.68 L108.10,269.69 L108.80,269.69 L108.80,270.30 L109.50,270.30 L109.50,270.97 L110.20,270.97 L110.20,273.50 L110.90,273.50 L110.90,272.42 L111.60,272.42 L111.60,267.62 L112.30,267.62 L112.30,273.80 L113.00,273.80 L113.00,278.74 L113.70,278.74 L113.70,270.31 L114.40,270.31 L114.40,272.88 L115.10,272.88 L115.10,271.24 L115.80,271.24 L115.80,270.75 L116.50,270.75 L116.50,278.92 L117.20,278.92 L117.20,268.42 L117.90,268.42 L117.90,265.80 L118.60,265.80 L118.60,270.47 L119.30,270.47 L119.30,270.83 L120.00,270.83 L120.00,273.66 L120.70,273.66 L120.70,279.46 L121.40,279.46 L121.40,279.41 L122.10,279.41 L122.10,277.34 L122.80,277.34 L122.80,273.09 L123.50,273.09 L123.50,272.45 L124.20,272.45 L124.20,274.83 L124.90,274.83 L124.90,270.70 L125.60,270.70 L125.60,277.32 L126.30,277.32 L126.30,274.43 L127.00,274.43 L127.00,271.50 L127.70,271.50 L127.70,275.79 L128.40,275.79 L128.40,284.44 L129.10,284.44 L129.10,285.48 L129.80,285.48 L129.80,281.25 L130.50,281.25 L130.50,277.71 L131.20,277.71 L131.20,271.47 L131.90,271.47 L131.90,278.76 L132.60,278.76 L132.60,278.55 L133.30,278.55 L133.30,275.71 L134.00,275.71 L134.00,277.54 L134.70,277.54 L134.70,287.83 L135.40,287.83 L135.40,280.16 L136.10,280.16 L136.10,269.61 L136.80,269.61 L136.80,269.30 L137.50,269.30 L137.50,277.20 L138.20,277.20 L138.20,279.43 L138.90,279.43 L138.90,277.99 L139.60,277.99 L139.60,267.68 L140.30,267.68 L140.30,269.86 L141.00,269.86 L141.00,273.18 L141.70,273.18 L141.70,268.94 L142.40,268.94 L142.40,273.50 L143.10,273.50 L143.10,267.84 L143.80,267.84 L143.80,275.42 L144.50,275.42 L144.50,278.71 L145.20,278.71 L145.20,275.50 L145.90,275.50 L145.90,270.78 L146.60,270.78 L146.60,271.42 L147.30,271.42 L147.30,273.25 L148.00,273.25 L148.00,283.17 L148.70,283.17 L148.70,283.97 L149.40,283.97 L149.40,283.99 L150.10,283.99 L150.10,283.67 L150.80,283.67 L150.80,278.79 L151.50,278.79 L151.50,279.98 L152.20,279.98 L152.20,275.91 L152.90,275.91 L152.90,276.64 L153.60,276.64 L153.60,278.79 L154.30,278.79 L154.30,278.07 L155.00,278.07 L155.00,276.37 L155.70,276.37 L155.70,273.64 L156.40,273.64 L156.40,277.74 L157.10,277.74 L157.10,278.97 L157.80,278.97 L157.80,284.40 L158.50,284.40 L158.50,274.92 L159.20,274.92 L159.20,270.34 L159.90,270.34 L159.90,274.67 L160.60,274.67 L160.60,278.31 L161.30,278.31 L161.30,283.50 L162.00,283.50 L162.00,280.45 L162.70,280.45 L162.70,278.61 L163.40,278.61 L163.40,269.31 L164.10,269.31 L164.10,272.32 L164.80,272.32 L164.80,278.28 L165.50,278.28 L165.50,287.90 L166.20,287.90 L166.20,278.02 L166.90,278.02 L166.90,277.35 L167.60,277.35 L167.60,284.54 L168.30,284.54 L168.30,280.97 L169.00,280.97 L169.00,286.53 L169.70,286.53 L169.70,268.21 L170.40,268.21 L170.40,268.05 L171.10,268.05 L171.10,270.26 L171.80,270.26 L171.80,274.61 L172.50,274.61 L172.50,285.26 L173.20,285.26 L173.20,282.66 L173.90,282.66 L173.90,287.23 L174.60,287.23 L174.60,280.71 L175.30,280.71 L175.30,287.90 L176.00,287.90 L176.00,287.78 L176.20,287.78 L176.20,265.40 L176.70,265.40 L176.70,265.40 L177.40,265.40 L177.40,271.45 L178.10,271.45 L178.10,279.49 L178.80,279.49 L178.80,285.40 L179.00,285.40 L179.00,260.00 L179.50,260.00 L179.50,260.00 L180.20,260.00 L180.20,274.83 L180.90,274.83 L180.90,280.54 L181.60,280.54 L181.60,282.45 L182.30,282.45 L182.30,283.49 L183.00,283.49 L183.00,257.90 L183.70,257.90 L183.70,257.90 L184.40,257.90 L184.40,276.99 L185.10,276.99 L185.10,274.68 L185.80,274.68 L185.80,267.67 L186.50,267.67 L186.50,272.82 L187.20,272.82 L187.20,245.00 L187.70,245.00 L187.70,218.60 L187.90,218.60 L187.90,218.60 L188.50,218.60 L188.50,211.10 L188.60,211.10 L188.60,211.10 L189.30,211.10 L189.30,211.10 L189.50,211.10 L189.50,218.60 L190.00,218.60 L190.00,218.60 L190.40,218.60 L190.40,245.00 L190.70,245.00 L190.70,245.00 L190.90,245.00 L190.90,281.49 L191.40,281.49 L191.40,274.00 L192.10,274.00 L192.10,272.42 L192.80,272.42 L192.80,269.47 L193.50,269.47 L193.50,272.38 L194.20,272.38 L194.20,278.06 L194.90,278.06 L194.90,277.81 L195.60,277.81 L195.60,279.60 L196.30,279.60 L196.30,283.68 L197.00,283.68 L197.00,287.90 L197.70,287.90 L197.70,287.90 L198.40,287.90 L198.40,284.79 L199.10,284.79 L199.10,281.24 L199.80,281.24 L199.80,281.91 L200.50,281.91 L200.50,274.28 L200.70,274.28 L200.70,241.70 L201.20,241.70 L201.20,241.70 L201.30,241.70 L201.30,227.20 L201.90,227.20 L201.90,227.20 L202.30,227.20 L202.30,241.70 L202.60,241.70 L202.60,241.70 L203.20,241.70 L203.20,270.94 L203.30,270.94 L203.30,277.70 L204.00,277.70 L204.00,286.24 L204.70,286.24 L204.70,279.51 L205.40,279.51 L205.40,281.86 L206.10,281.86 L206.10,274.75 L206.80,274.75 L206.80,274.93 L207.50,274.93 L207.50,272.22 L208.20,272.22 L208.20,271.75 L208.90,271.75 L208.90,283.43 L209.60,283.43 L209.60,278.10 L210.30,278.10 L210.30,281.02 L211.00,281.02 L211.00,282.97 L211.70,282.97 L211.70,282.70 L212.40,282.70 L212.40,277.49 L213.10,277.49 L213.10,274.14 L213.80,274.14 L213.80,271.77 L214.50,271.77 L214.50,281.68 L215.20,281.68 L215.20,282.64 L215.90,282.64 L215.90,287.90 L216.60,287.90 L216.60,285.53 L217.30,285.53 L217.30,279.75 L218.00,279.75 L218.00,282.31 L218.70,282.31 L218.70,279.48 L219.40,279.48 L219.40,277.98 L220.10,277.98 L220.10,273.89 L220.80,273.89 L220.80,279.32 L221.50,279.32 L221.50,282.35 L222.20,282.35 L222.20,283.73 L222.90,283.73 L222.90,273.93 L223.60,273.93 L223.60,271.31 L224.30,271.31 L224.30,274.98 L225.00,274.98 L225.00,275.52 L225.70,275.52 L225.70,276.29 L226.40,276.29 L226.40,276.34 L227.10,276.34 L227.10,278.10 L227.80,278.10 L227.80,279.59 L228.50,279.59 L228.50,284.29 L229.20,284.29 L229.20,284.29 L229.90,284.29 L229.90,274.66 L230.00,274.66 L230.00,246.60 L230.30,246.60 L230.30,205.20 L230.60,205.20 L230.60,205.20 L230.90,205.20 L230.90,193.90 L231.10,193.90 L231.10,179.50 L231.30,179.50 L231.30,179.50 L232.00,179.50 L232.00,179.50 L232.10,179.50 L232.10,193.90 L232.60,193.90 L232.60,205.20 L232.70,205.20 L232.70,205.20 L233.30,205.20 L233.30,246.60 L233.40,246.60 L233.40,246.60 L233.70,246.60 L233.70,276.51 L234.10,276.51 L234.10,280.03 L234.80,280.03 L234.80,278.43 L235.50,278.43 L235.50,277.36 L236.20,277.36 L236.20,280.93 L236.90,280.93 L236.90,283.06 L237.60,283.06 L237.60,285.11 L237.80,285.11 L237.80,264.50 L238.30,264.50 L238.30,264.50 L239.00,264.50 L239.00,264.50 L239.20,264.50 L239.20,279.08 L239.70,279.08 L239.70,287.90 L240.40,287.90 L240.40,285.11 L241.10,285.11 L241.10,284.61 L241.80,284.61 L241.80,284.37 L242.50,284.37 L242.50,281.23 L243.20,281.23 L243.20,275.17 L243.90,275.17 L243.90,276.26 L244.60,276.26 L244.60,277.77 L245.30,277.77 L245.30,280.58 L246.00,280.58 L246.00,280.10 L246.60,280.10 L246.60,232.00 L246.70,232.00 L246.70,232.00 L247.40,232.00 L247.40,232.00 L248.10,232.00 L248.10,218.50 L248.80,218.50 L248.80,218.50 L249.10,218.50 L249.10,232.00 L249.40,232.00 L249.40,250.00 L249.50,250.00 L249.50,250.00 L250.20,250.00 L250.20,250.00 L250.90,250.00 L250.90,250.00 L251.00,250.00 L251.00,279.63 L251.60,279.63 L251.60,277.54 L252.30,277.54 L252.30,278.88 L253.00,278.88 L253.00,272.49 L253.70,272.49 L253.70,277.87 L254.40,277.87 L254.40,274.90 L255.10,274.90 L255.10,273.07 L255.80,273.07 L255.80,281.92 L256.50,281.92 L256.50,286.83 L257.20,286.83 L257.20,286.89 L257.90,286.89 L257.90,279.21 L258.60,279.21 L258.60,273.36 L259.30,273.36 L259.30,280.74 L260.00,280.74 L260.00,275.24 L260.70,275.24 L260.70,278.22 L261.40,278.22 L261.40,279.91 L262.10,279.91 L262.10,281.50 L262.80,281.50 L262.80,281.42 L263.00,281.42 L263.00,262.00 L263.50,262.00 L263.50,262.00 L263.80,262.00 L263.80,251.00 L264.20,251.00 L264.20,251.00 L264.80,251.00 L264.80,262.00 L264.90,262.00 L264.90,262.00 L265.60,262.00 L265.60,281.92 L266.30,281.92 L266.30,271.52 L267.00,271.52 L267.00,265.80 L267.70,265.80 L267.70,271.35 L268.40,271.35 L268.40,281.71 L269.10,281.71 L269.10,281.88 L269.80,281.88 L269.80,284.22 L270.50,284.22 L270.50,273.22 L271.20,273.22 L271.20,273.11 L271.40,273.11 L271.40,256.00 L271.90,256.00 L271.90,256.00 L272.20,256.00 L272.20,241.50 L272.60,241.50 L272.60,241.50 L273.20,241.50 L273.20,256.00 L273.30,256.00 L273.30,256.00 L274.00,256.00 L274.00,282.73 L274.70,282.73 L274.70,282.97 L275.40,282.97 L275.40,281.87 L276.10,281.87 L276.10,280.19 L276.80,280.19 L276.80,278.78 L277.50,278.78 L277.50,279.99 L278.20,279.99 L278.20,278.43 L278.90,278.43 L278.90,280.83 L279.60,280.83 L279.60,283.46 L280.30,283.46 L280.30,274.77 L281.00,274.77 L281.00,274.85 L281.70,274.85 L281.70,274.56 L282.40,274.56 L282.40,282.94 L283.10,282.94 L283.10,281.55 L283.80,281.55 L283.80,276.65 L284.50,276.65 L284.50,282.81 L285.20,282.81 L285.20,276.17 L285.90,276.17 L285.90,278.77 L286.60,278.77 L286.60,276.86 L287.30,276.86 L287.30,278.07 L287.40,278.07 L287.40,258.00 L288.00,258.00 L288.00,258.00 L288.20,258.00 L288.20,245.30 L288.70,245.30 L288.70,245.30 L289.20,245.30 L289.20,258.00 L289.40,258.00 L289.40,258.00 L290.00,258.00 L290.00,276.90 L290.10,276.90 L290.10,270.96 L290.80,270.96 L290.80,277.55 L291.50,277.55 L291.50,281.80 L292.20,281.80 L292.20,277.24 L292.90,277.24 L292.90,282.19 L293.60,282.19 L293.60,282.00 L294.30,282.00 L294.30,276.52 L295.00,276.52 L295.00,272.24 L295.70,272.24 L295.70,282.42 L296.40,282.42 L296.40,278.44 L297.10,278.44 L297.10,270.47 L297.80,270.47 L297.80,268.97 L298.50,268.97 L298.50,274.18 L299.20,274.18 L299.20,278.56 L299.90,278.56 L299.90,279.69 L300.60,279.69 L300.60,283.90 L301.30,283.90 L301.30,282.49 L302.00,282.49 L302.00,281.39 L302.70,281.39 L302.70,280.61 L303.40,280.61 L303.40,274.61 L304.10,274.61 L304.10,277.23 L304.80,277.23 L304.80,283.84 L305.50,283.84 L305.50,276.93 L306.20,276.93 L306.20,282.05 L306.90,282.05 L306.90,282.24 L307.60,282.24 L307.60,281.03 L308.30,281.03 L308.30,281.25 L309.00,281.25 L309.00,284.13 L309.70,284.13 L309.70,282.55 L310.40,282.55 L310.40,271.47 L311.10,271.47 L311.10,277.09 L311.80,277.09 L311.80,278.21 L311.90,278.21 L311.90,262.00 L312.10,262.00 L312.10,200.00 L312.40,200.00 L312.40,190.00 L312.50,190.00 L312.50,190.00 L313.20,190.00 L313.20,190.00 L313.90,190.00 L313.90,190.00 L314.10,190.00 L314.10,152.30 L314.60,152.30 L314.60,152.30 L314.80,152.30 L314.80,190.00 L315.00,190.00 L315.00,200.00 L315.30,200.00 L315.30,200.00 L316.00,200.00 L316.00,262.00 L316.20,262.00 L316.20,284.32 L316.70,284.32 L316.70,281.07 L317.40,281.07 L317.40,277.73 L318.10,277.73 L318.10,272.55 L318.80,272.55 L318.80,273.17 L319.50,273.17 L319.50,276.48 L320.20,276.48 L320.20,277.13 L320.90,277.13 L320.90,278.54 L321.60,278.54 L321.60,277.40 L322.30,277.40 L322.30,274.97 L323.00,274.97 L323.00,277.90 L323.70,277.90 L323.70,281.50 L324.40,281.50 L324.40,283.65 L325.10,283.65 L325.10,276.63 L325.80,276.63 L325.80,272.00 L326.50,272.00 L326.50,270.67 L327.20,270.67 L327.20,270.50 L327.90,270.50 L327.90,270.51 L328.60,270.51 L328.60,274.03 L329.30,274.03 L329.30,273.16 L330.00,273.16 L330.00,279.89 L330.70,279.89 L330.70,280.03 L331.40,280.03 L331.40,282.33 L332.10,282.33 L332.10,277.46 L332.80,277.46 L332.80,266.00 L333.50,266.00 L333.50,266.00 L333.60,266.00 L333.60,255.00 L334.20,255.00 L334.20,255.00 L334.60,255.00 L334.60,266.00 L334.90,266.00 L334.90,266.00 L335.40,266.00 L335.40,272.15 L335.60,272.15 L335.60,278.24 L336.30,278.24 L336.30,282.21 L337.00,282.21 L337.00,277.02 L337.70,277.02 L337.70,282.24 L338.40,282.24 L338.40,278.57 L339.10,278.57 L339.10,280.84 L339.80,280.84 L339.80,280.14 L340.50,280.14 L340.50,286.96 L341.20,286.96 L341.20,280.07 L341.90,280.07 L341.90,281.37 L342.60,281.37 L342.60,283.76 L343.30,283.76 L343.30,272.58 L344.00,272.58 L344.00,272.17 L344.70,272.17 L344.70,265.80 L344.80,265.80 L344.80,262.00 L345.40,262.00 L345.40,262.00 L346.10,262.00 L346.10,262.00 L346.80,262.00 L346.80,262.00 L347.00,262.00 L347.00,249.50 L347.50,249.50 L347.50,249.50 L347.60,249.50 L347.60,249.50 L348.00,249.50 L348.00,269.80 L348.20,269.80 L348.20,273.74 L348.90,273.74 L348.90,273.90 L349.60,273.90 L349.60,273.71 L350.30,273.71 L350.30,279.60 L351.00,279.60 L351.00,278.47 L351.70,278.47 L351.70,280.51 L352.40,280.51 L352.40,284.74 L352.80,284.74 L352.80,261.60 L353.10,261.60 L353.10,261.60 L353.60,261.60 L353.60,278.18 L353.80,278.18 L353.80,275.44 L354.50,275.44 L354.50,276.41 L355.20,276.41 L355.20,281.07 L355.90,281.07 L355.90,287.90 L356.60,287.90 L356.60,281.73 L357.30,281.73 L357.30,280.60 L358.00,280.60 L358.00,286.64 L358.70,286.64 L358.70,283.14 L359.40,283.14 L359.40,287.35 L360.10,287.35 L360.10,283.39 L360.80,283.39 L360.80,280.50 L361.50,280.50 L361.50,278.02 L362.20,278.02 L362.20,277.23 L362.90,277.23 L362.90,277.00 L363.60,277.00 L363.60,282.37 L364.30,282.37 L364.30,282.15 L365.00,282.15 L365.00,282.56 L365.70,282.56 L365.70,281.64 L366.40,281.64 L366.40,279.00 L367.10,279.00 L367.10,276.09 L367.80,276.09 L367.80,270.21 L368.50,270.21 L368.50,284.64 L369.20,284.64 L369.20,280.10 L369.90,280.10 L369.90,280.13 L370.60,280.13 L370.60,269.74 L371.30,269.74 L371.30,269.67 L372.00,269.67 L372.00,280.50 L372.70,280.50 L372.70,277.82 L373.40,277.82 L373.40,280.22 L374.10,280.22 L374.10,275.19 L374.80,275.19 L374.80,281.02 L375.50,281.02 L375.50,280.22 L376.20,280.22 L376.20,279.91 L376.30,279.91 L376.30,259.80 L376.90,259.80 L376.90,259.80 L377.10,259.80 L377.10,279.59 L377.60,279.59 L377.60,281.46 L378.30,281.46 L378.30,287.76 L379.00,287.76 L379.00,281.57 L379.70,281.57 L379.70,275.90 L380.40,275.90 L380.40,277.27 L381.10,277.27 L381.10,282.00 L381.80,282.00 L381.80,279.48 L382.50,279.48 L382.50,276.58 L383.20,276.58 L383.20,278.09 L383.90,278.09 L383.90,278.24 L384.60,278.24 L384.60,272.35 L385.30,272.35 L385.30,279.73 L386.00,279.73 L386.00,281.43 L386.70,281.43 L386.70,287.90 L387.40,287.90 L387.40,286.59 L388.10,286.59 L388.10,285.96 L388.80,285.96 L388.80,286.55 L389.50,286.55 L389.50,285.75 L390.20,285.75 L390.20,274.85 L390.90,274.85 L390.90,277.23 L391.60,277.23 L391.60,278.19 L392.30,278.19 L392.30,269.01 L393.00,269.01 L393.00,273.44 L393.70,273.44 L393.70,282.91 L394.40,282.91 L394.40,279.14 L395.10,279.14 L395.10,282.70 L395.80,282.70 L395.80,273.84 L396.50,273.84 L396.50,281.08 L397.20,281.08 L397.20,282.27 L397.90,282.27 L397.90,287.23 L398.60,287.23 L398.60,282.80 L399.30,282.80 L399.30,285.04 L400.00,285.04 L400.00,282.28 L400.70,282.28 L400.70,282.07 L401.40,282.07 L401.40,282.95 L402.10,282.95 L402.10,276.90 L402.80,276.90 L402.80,273.60 L403.50,273.60 L403.50,275.45 L404.20,275.45 L404.20,261.60 L404.90,261.60 L404.90,261.60 L405.00,261.60 L405.00,284.01 L405.60,284.01 L405.60,280.31 L406.30,280.31 L406.30,269.36 L407.00,269.36 L407.00,275.30 L407.70,275.30 L407.70,279.95 L408.40,279.95 L408.40,282.14 L409.10,282.14 L409.10,285.01 L409.80,285.01 L409.80,286.07 L410.50,286.07 L410.50,283.44 L411.20,283.44 L411.20,275.10 L411.90,275.10 L411.90,276.55 L412.60,276.55 L412.60,279.48 L413.30,279.48 L413.30,285.73 L414.00,285.73 L414.00,281.49 L414.70,281.49 L414.70,280.17 L415.40,280.17 L415.40,284.48 L416.10,284.48 L416.10,286.26 L416.80,286.26 L416.80,282.86 L417.50,282.86 L417.50,276.55 L418.20,276.55 L418.20,274.71 L418.90,274.71 L418.90,275.46 L419.40,275.46 L419.40,253.30 L419.60,253.30 L419.60,253.30 L420.20,253.30 L420.20,278.10 L420.30,278.10 L420.30,276.84 L421.00,276.84 L421.00,277.55 L421.70,277.55 L421.70,268.76 L422.40,268.76 L422.40,277.81 L423.10,277.81 L423.10,279.58 L423.80,279.58 L423.80,273.68 L424.50,273.68 L424.50,276.87 L425.20,276.87 L425.20,271.53 L425.90,271.53 L425.90,274.76 L426.60,274.76 L426.60,275.74 L427.30,275.74 L427.30,278.45 L428.00,278.45 L428.00,284.18 L428.70,284.18 L428.70,285.61 L429.40,285.61 L429.40,273.02 L430.10,273.02 L430.10,272.68 L430.80,272.68 L430.80,272.67 L431.50,272.67 L431.50,271.20 L432.20,271.20 L432.20,272.00 L432.90,272.00 L432.90,270.54 L433.60,270.54 L433.60,275.15 L434.30,275.15 L434.30,277.51 L435.00,277.51 L435.00,273.73 L435.70,273.73 L435.70,277.27 L436.40,277.27 L436.40,283.32 L437.10,283.32 L437.10,282.01 L437.80,282.01 L437.80,282.63 L438.50,282.63 L438.50,278.10 L439.20,278.10 L439.20,281.22 L439.90,281.22 L439.90,284.36 L440.60,284.36 L440.60,283.03 L441.30,283.03 L441.30,274.38 L442.00,274.38 L442.00,276.34 L442.70,276.34 L442.70,276.55 L443.40,276.55 L443.40,277.30 L444.10,277.30 L444.10,276.51 L444.80,276.51 L444.80,273.41 L445.50,273.41 L445.50,269.75 L446.20,269.75 L446.20,280.50 L446.90,280.50 L446.90,273.80 L447.60,273.80 L447.60,275.84 L448.30,275.84 L448.30,278.29 L448.80,278.29 L448.80,262.00 L449.00,262.00 L449.00,166.60 L449.70,166.60 L449.70,166.60 L450.00,166.60 L450.00,156.00 L450.40,156.00 L450.40,156.00 L451.00,156.00 L451.00,262.00 L451.10,262.00 L451.10,262.00 L451.30,262.00 L451.30,268.28 L451.80,268.28 L451.80,277.11 L452.50,277.11 L452.50,275.60 L453.20,275.60 L453.20,273.72 L453.90,273.72 L453.90,276.31 L454.60,276.31 L454.60,286.98 L455.30,286.98 L455.30,284.52 L456.00,284.52 L456.00,282.53 L456.70,282.53 L456.70,285.28 L457.40,285.28 L457.40,274.47 L458.10,274.47 L458.10,277.22 L458.80,277.22 L458.80,279.36 L459.50,279.36 L459.50,280.14 L460.20,280.14 L460.20,282.60 L460.90,282.60 L460.90,283.93 L461.60,283.93 L461.60,281.00 L462.30,281.00 L462.30,278.47 L463.00,278.47 L463.00,280.52 L463.70,280.52 L463.70,279.90 L464.40,279.90 L464.40,285.02 L465.10,285.02 L465.10,279.81 L465.80,279.81 L465.80,282.28 L466.50,282.28 L466.50,279.58 L467.20,279.58 L467.20,282.81 L467.90,282.81 L467.90,282.95 L468.20,282.95 L468.20,266.00 L468.60,266.00 L468.60,266.00 L468.80,266.00 L468.80,260.80 L469.30,260.80 L469.30,260.80 L469.80,260.80 L469.80,266.00 L470.00,266.00 L470.00,266.00 L470.60,266.00 L470.60,271.23 L470.70,271.23 L470.70,274.56 L471.40,274.56 L471.40,276.55 L472.10,276.55 L472.10,280.42 L472.80,280.42 L472.80,272.77 L473.50,272.77 L473.50,269.44 L474.20,269.44 L474.20,272.17 L474.90,272.17 L474.90,280.67 L475.60,280.67 L475.60,281.72 L476.30,281.72 L476.30,277.60 L477.00,277.60 L477.00,280.06 L477.70,280.06 L477.70,284.24 L478.40,284.24 L478.40,286.56 L479.10,286.56 L479.10,286.08 L479.80,286.08 L479.80,282.52 L480.50,282.52 L480.50,283.35 L481.20,283.35 L481.20,281.00 L481.90,281.00 L481.90,268.06 L482.60,268.06 L482.60,265.80 L483.30,265.80 L483.30,275.46 L484.00,275.46 L484.00,275.30 L484.70,275.30 L484.70,276.28 L485.40,276.28 L485.40,277.77 L486.10,277.77 L486.10,273.63 L486.80,273.63 L486.80,277.13 L487.50,277.13 L487.50,279.02 L488.20,279.02 L488.20,280.27 L488.90,280.27 L488.90,279.81 L489.60,279.81 L489.60,273.73 L490.30,273.73 L490.30,272.53 L490.40,272.53 L490.40,265.00 L491.00,265.00 L491.00,265.00 L491.20,265.00 L491.20,280.76 L491.70,280.76 L491.70,281.51 L492.40,281.51 L492.40,283.41 L493.10,283.41 L493.10,277.69 L493.80,277.69 L493.80,277.02 L494.50,277.02 L494.50,273.86 L495.20,273.86 L495.20,276.12 L495.90,276.12 L495.90,285.12 L496.60,285.12 L496.60,280.15 L497.30,280.15 L497.30,278.36 L498.00,278.36 L498.00,276.20 L498.70,276.20 L498.70,282.62 L499.40,282.62 L499.40,280.33 L500.10,280.33 L500.10,282.31 L500.80,282.31 L500.80,283.39 L501.00,283.39 L501.00,262.00 L501.50,262.00 L501.50,262.00 L501.60,262.00 L501.60,254.80 L502.20,254.80 L502.20,254.80 L502.40,254.80 L502.40,262.00 L502.90,262.00 L502.90,262.00 L503.00,262.00 L503.00,281.63 L503.60,281.63 L503.60,287.32 L504.30,287.32 L504.30,287.90 L505.00,287.90 L505.00,287.90 L505.70,287.90 L505.70,279.56 L506.40,279.56 L506.40,279.22 L507.10,279.22 L507.10,287.90 L507.80,287.90 L507.80,287.40 L508.50,287.40 L508.50,281.54 L509.20,281.54 L509.20,273.06 L509.90,273.06 L509.90,270.51 L510.60,270.51 L510.60,272.48 L511.30,272.48 L511.30,274.27 L512.00,274.27 L512.00,280.53 L512.70,280.53 L512.70,281.43 L513.40,281.43 L513.40,281.42 L514.00,281.42 L514.00,262.50 L514.10,262.50 L514.10,262.50 L514.80,262.50 L514.80,280.76 L515.50,280.76 L515.50,281.31 L516.20,281.31 L516.20,278.54 L516.90,278.54 L516.90,272.41 L517.60,272.41 L517.60,271.95 L518.30,271.95 L518.30,273.05 L519.00,273.05 L519.00,276.42 L519.70,276.42 L519.70,283.65 L520.40,283.65 L520.40,281.72 L521.10,281.72 L521.10,277.90 L521.80,277.90 L521.80,282.32 L522.50,282.32 L522.50,275.24 L523.20,275.24 L523.20,278.02 L523.90,278.02 L523.90,276.58 L524.00,276.58 L524.00,250.80 L524.20,250.80 L524.20,246.70 L524.60,246.70 L524.60,246.70 L525.20,246.70 L525.20,250.80 L525.30,250.80 L525.30,250.80 L526.00,250.80 L526.00,250.80 L526.70,250.80 L526.70,250.80 L527.40,250.80 L527.40,250.80 L528.00,250.80 L528.00,275.42 L528.10,275.42 L528.10,279.05 L528.80,279.05 L528.80,277.54 L529.50,277.54 L529.50,281.27 L530.20,281.27 L530.20,281.68 L530.90,281.68 L530.90,276.29 L531.60,276.29 L531.60,269.03 L532.30,269.03 L532.30,276.76 L533.00,276.76 L533.00,277.41 L533.70,277.41 L533.70,273.83 L534.40,273.83 L534.40,278.49 L535.10,278.49 L535.10,275.42 L535.80,275.42 L535.80,280.01 L536.50,280.01 L536.50,276.71 L537.20,276.71 L537.20,275.59 L537.90,275.59 L537.90,271.72 L538.60,271.72 L538.60,273.15 L539.30,273.15 L539.30,280.48 L540.00,280.48 L540.00,276.71 L540.70,276.71 L540.70,282.05 L541.40,282.05 L541.40,277.21 L542.10,277.21 L542.10,271.36 L542.80,271.36 L542.80,271.98 L543.50,271.98 L543.50,277.15 L544.20,277.15 L544.20,272.66 L544.90,272.66 L544.90,274.49 L545.60,274.49 L545.60,281.44 L546.30,281.44 L546.30,281.51 L547.00,281.51 L547.00,265.00 L547.70,265.00 L547.70,265.00 L548.00,265.00 L548.00,277.27 L548.40,277.27 L548.40,277.22 L549.10,277.22 L549.10,279.15 L549.80,279.15 L549.80,285.85 L550.50,285.85 L550.50,284.60 L551.20,284.60 L551.20,280.27 L551.90,280.27 L551.90,278.51 L552.60,278.51 L552.60,279.14 L553.30,279.14 L553.30,287.73 L554.00,287.73 L554.00,278.35 L554.70,278.35 L554.70,275.31 L555.40,275.31 L555.40,272.36 L556.10,272.36 L556.10,269.57 L556.80,269.57 L556.80,275.37 L557.50,275.37 L557.50,279.22 L558.20,279.22 L558.20,277.49 L558.90,277.49 L558.90,270.83 L559.60,270.83 L559.60,281.27 L560.30,281.27 L560.30,280.90 L561.00,280.90 L561.00,282.73 L561.70,282.73 L561.70,278.39 L562.40,278.39 L562.40,272.20 L563.10,272.20 L563.10,276.19 L563.80,276.19 L563.80,282.35 L564.50,282.35 L564.50,280.32 L565.20,280.32 L565.20,280.61 L565.90,280.61 L565.90,286.05 L566.60,286.05 L566.60,278.85 L567.30,278.85 L567.30,280.80 L568.00,280.80 L568.00,276.81 L568.70,276.81 L568.70,283.00 L569.00,283.00 L569.00,261.50 L569.40,261.50 L569.40,261.50 L569.50,261.50 L569.50,242.40 L570.10,242.40 L570.10,242.40 L570.50,242.40 L570.50,261.50 L570.80,261.50 L570.80,261.50 L571.20,261.50 L571.20,276.59 L571.50,276.59 L571.50,284.97 L572.20,284.97 L572.20,276.17 L572.90,276.17 L572.90,278.70 L573.60,278.70 L573.60,285.06 L574.30,285.06 L574.30,283.00 L575.00,283.00 L575.00,279.47 L575.70,279.47 L575.70,283.10 L576.00,283.10 L576.00,260.00 L576.40,260.00 L576.40,260.00 L577.00,260.00 L577.00,283.01 L577.10,283.01 L577.10,279.76 L577.80,279.76 L577.80,279.81 L578.50,279.81 L578.50,287.90 L579.20,287.90 L579.20,287.64 L579.90,287.64 L579.90,281.65 L580.60,281.65 L580.60,278.89 L581.30,278.89 L581.30,274.39 L582.00,274.39 L582.00,279.05 L582.70,279.05 L582.70,267.99 L583.40,267.99 L583.40,269.27 L584.10,269.27 L584.10,272.02 L584.80,272.02 L584.80,270.29 L585.50,270.29 L585.50,269.89 L586.20,269.89 L586.20,273.24 L586.90,273.24 L586.90,278.13 L587.60,278.13 L587.60,273.90 L588.30,273.90 L588.30,274.10 L589.00,274.10 L589.00,283.94 L589.70,283.94 L589.70,286.04 L590.40,286.04 L590.40,280.59 L591.10,280.59 L591.10,279.11 L591.80,279.11 L591.80,277.57 L592.50,277.57 L592.50,275.20 L593.20,275.20 L593.20,275.98 L593.90,275.98 L593.90,270.38 L594.60,270.38 L594.60,276.42 L595.30,276.42 L595.30,278.94 L596.00,278.94 L596.00,277.30 L596.70,277.30 L596.70,274.62 L597.00,274.62" fill="none" stroke="#4d4da6" stroke-width="1.15" stroke-linejoin="round"/>
<path d="M56.6,270.5 V285.5 M61.5,273 V281.5 M70.2,272 V282 M84.5,274 V281" stroke="#151515" stroke-width="1.6" fill="none"/><path d="M58.3,268 V287.5 M65.6,269 V286 M595.6,265 V286 M591.4,268 V284" stroke="#4d4da6" stroke-width="1.6" fill="none"/><path d="M589.5,272 V283 M593.5,273 V285" stroke="#151515" stroke-width="1.6" fill="none"/><path d="M55.5,272.4 L63.0,272.4 L63.0,274.0 L67.5,274.0 L67.5,270.5 L73.5,270.5 L73.5,270.3 L78.0,270.3 L78.0,270.5 L87.0,270.5 L87.0,272.3 L91.5,272.3 L91.5,274.9 L97.5,274.9 L97.5,272.5 L103.5,272.5 L103.5,272.6 L112.5,272.6 L112.5,272.8 L117.0,272.8 L117.0,273.4 L123.0,273.4 L123.0,270.2 L129.0,270.2 L129.0,274.3 L135.0,274.3 L135.0,278.1 L141.0,278.1 L141.0,276.4 L148.5,276.4 L148.5,274.7 L154.5,274.7 L154.5,272.7 L159.0,272.7 L159.0,273.7 L163.5,273.7 L163.5,274.5 L172.5,274.5 L172.5,274.6 L181.5,274.6 L181.5,274.0 L186.0,274.0 L186.0,275.4 L195.0,275.4 L195.0,270.4 L202.5,270.4 L202.5,273.6 L211.5,273.6 L211.5,273.5 L217.5,273.5 L217.5,273.9 L226.5,273.9 L226.5,274.8 L234.0,274.8 L234.0,275.0 L241.5,275.0 L241.5,275.2 L246.0,275.2 L246.0,276.0 L253.5,276.0 L253.5,274.2 L258.0,274.2 L258.0,275.4 L264.0,275.4 L264.0,275.6 L271.5,275.6 L271.5,276.6 L276.0,276.6 L276.0,277.3 L285.0,277.3 L285.0,275.5 L292.5,275.5 L292.5,277.4 L301.5,277.4 L301.5,275.2 L306.0,275.2 L306.0,276.5 L312.0,276.5 L312.0,272.6 L318.0,272.6 L318.0,275.3 L322.5,275.3 L322.5,275.2 L327.0,275.2 L327.0,276.5 L336.0,276.5 L336.0,276.2 L342.0,276.2 L342.0,274.0 L351.0,274.0 L351.0,272.2 L358.5,272.2 L358.5,274.9 L364.5,274.9 L364.5,271.3 L370.5,271.3 L370.5,273.4 L378.0,273.4 L378.0,275.2 L385.5,275.2 L385.5,271.8 L393.0,271.8 L393.0,271.0 L400.5,271.0 L400.5,273.2 L408.0,273.2 L408.0,274.0 L415.5,274.0 L415.5,272.4 L421.5,272.4 L421.5,272.0 L429.0,272.0 L429.0,273.5 L436.5,273.5 L436.5,271.3 L444.0,271.3 L444.0,270.8 L453.0,270.8 L453.0,277.6 L462.0,277.6 L462.0,272.7 L468.0,272.7 L468.0,275.3 L475.5,275.3 L475.5,273.1 L480.0,273.1 L480.0,270.8 L486.0,270.8 L486.0,272.9 L495.0,272.9 L495.0,273.5 L502.5,273.5 L502.5,271.7 L508.5,271.7 L508.5,274.1 L514.5,274.1 L514.5,278.1 L519.0,278.1 L519.0,274.4 L525.0,274.4 L525.0,275.4 L532.5,275.4 L532.5,272.1 L537.0,272.1 L537.0,272.4 L541.5,272.4 L541.5,275.0 L549.0,275.0 L549.0,275.4 L556.5,275.4 L556.5,275.4 L564.0,275.4 L564.0,275.1 L571.5,275.1 L571.5,274.7 L579.0,274.7 L579.0,274.1 L586.5,274.1 L586.5,272.5 L594.0,272.5 L594.0,269.7 L597.0,269.7" fill="none" stroke="#151515" stroke-width="2.6" stroke-dasharray="4.5 3.8"/><path d="M55.5,279.2 L63.0,279.2 L63.0,279.7 L67.5,279.7 L67.5,279.2 L73.5,279.2 L73.5,284.3 L78.0,284.3 L78.0,281.4 L87.0,281.4 L87.0,280.4 L91.5,280.4 L91.5,280.6 L97.5,280.6 L97.5,281.4 L103.5,281.4 L103.5,282.1 L112.5,282.1 L112.5,283.1 L117.0,283.1 L117.0,281.0 L123.0,281.0 L123.0,281.4 L129.0,281.4 L129.0,285.8 L135.0,285.8 L135.0,280.3 L141.0,280.3 L141.0,281.2 L148.5,281.2 L148.5,282.4 L154.5,282.4 L154.5,279.6 L159.0,279.6 L159.0,283.7 L163.5,283.7 L163.5,280.0 L172.5,280.0 L172.5,280.5 L181.5,280.5 L181.5,280.5 L186.0,280.5 L186.0,281.3 L195.0,281.3 L195.0,283.2 L202.5,283.2 L202.5,281.3 L211.5,281.3 L211.5,281.8 L217.5,281.8 L217.5,281.0 L226.5,281.0 L226.5,279.0 L234.0,279.0 L234.0,279.5 L241.5,279.5 L241.5,281.7 L246.0,281.7 L246.0,279.1 L253.5,279.1 L253.5,281.1 L258.0,281.1 L258.0,277.7 L264.0,277.7 L264.0,279.8 L271.5,279.8 L271.5,280.9 L276.0,280.9 L276.0,280.3 L285.0,280.3 L285.0,278.2 L292.5,278.2 L292.5,283.3 L301.5,283.3 L301.5,278.4 L306.0,278.4 L306.0,281.7 L312.0,281.7 L312.0,278.1 L318.0,278.1 L318.0,281.5 L322.5,281.5 L322.5,279.1 L327.0,279.1 L327.0,279.2 L336.0,279.2 L336.0,279.9 L342.0,279.9 L342.0,278.9 L351.0,278.9 L351.0,284.2 L358.5,284.2 L358.5,284.5 L364.5,284.5 L364.5,281.3 L370.5,281.3 L370.5,284.3 L378.0,284.3 L378.0,283.7 L385.5,283.7 L385.5,280.4 L393.0,280.4 L393.0,284.5 L400.5,284.5 L400.5,281.5 L408.0,281.5 L408.0,282.2 L415.5,282.2 L415.5,282.5 L421.5,282.5 L421.5,283.7 L429.0,283.7 L429.0,280.5 L436.5,280.5 L436.5,284.5 L444.0,284.5 L444.0,285.1 L453.0,285.1 L453.0,280.0 L462.0,280.0 L462.0,280.4 L468.0,280.4 L468.0,279.9 L475.5,279.9 L475.5,278.1 L480.0,278.1 L480.0,278.1 L486.0,278.1 L486.0,282.5 L495.0,282.5 L495.0,280.2 L502.5,280.2 L502.5,279.4 L508.5,279.4 L508.5,283.0 L514.5,283.0 L514.5,280.2 L519.0,280.2 L519.0,280.9 L525.0,280.9 L525.0,280.2 L532.5,280.2 L532.5,281.8 L537.0,281.8 L537.0,280.4 L541.5,280.4 L541.5,281.0 L549.0,281.0 L549.0,278.5 L556.5,278.5 L556.5,280.6 L564.0,280.6 L564.0,282.1 L571.5,282.1 L571.5,280.6 L579.0,280.6 L579.0,279.5 L586.5,279.5 L586.5,281.2 L594.0,281.2 L594.0,279.4 L597.0,279.4" fill="none" stroke="#151515" stroke-width="2.6" stroke-dasharray="4.5 3.8"/>
<line x1="55" y1="1" x2="55" y2="290" stroke="#5f5cab" stroke-width="2"/><line x1="597.8" y1="1" x2="597.8" y2="290" stroke="#5f5cab" stroke-width="2"/><line x1="54" y1="1.9" x2="598.8" y2="1.9" stroke="#5f5cab" stroke-width="1.3"/><line x1="54" y1="289" x2="598.8" y2="289" stroke="#5f5cab" stroke-width="1.6"/><line x1="55" y1="277.50" x2="66.00" y2="277.50" stroke="#464680" stroke-width="1.5"/><line x1="597.8" y1="277.50" x2="586.80" y2="277.50" stroke="#464680" stroke-width="1.5"/><line x1="55" y1="268.10" x2="60.50" y2="268.10" stroke="#464680" stroke-width="1.5"/><line x1="597.8" y1="268.10" x2="592.30" y2="268.10" stroke="#464680" stroke-width="1.5"/><line x1="55" y1="258.71" x2="60.50" y2="258.71" stroke="#464680" stroke-width="1.5"/><line x1="597.8" y1="258.71" x2="592.30" y2="258.71" stroke="#464680" stroke-width="1.5"/><line x1="55" y1="249.31" x2="60.50" y2="249.31" stroke="#464680" stroke-width="1.5"/><line x1="597.8" y1="249.31" x2="592.30" y2="249.31" stroke="#464680" stroke-width="1.5"/><line x1="55" y1="239.92" x2="60.50" y2="239.92" stroke="#464680" stroke-width="1.5"/><line x1="597.8" y1="239.92" x2="592.30" y2="239.92" stroke="#464680" stroke-width="1.5"/><line x1="55" y1="230.52" x2="66.00" y2="230.52" stroke="#464680" stroke-width="1.5"/><line x1="597.8" y1="230.52" x2="586.80" y2="230.52" stroke="#464680" stroke-width="1.5"/><line x1="55" y1="221.12" x2="60.50" y2="221.12" stroke="#464680" stroke-width="1.5"/><line x1="597.8" y1="221.12" x2="592.30" y2="221.12" stroke="#464680" stroke-width="1.5"/><line x1="55" y1="211.73" x2="60.50" y2="211.73" stroke="#464680" stroke-width="1.5"/><line x1="597.8" y1="211.73" x2="592.30" y2="211.73" stroke="#464680" stroke-width="1.5"/><line x1="55" y1="202.33" x2="60.50" y2="202.33" stroke="#464680" stroke-width="1.5"/><line x1="597.8" y1="202.33" x2="592.30" y2="202.33" stroke="#464680" stroke-width="1.5"/><line x1="55" y1="192.94" x2="60.50" y2="192.94" stroke="#464680" stroke-width="1.5"/><line x1="597.8" y1="192.94" x2="592.30" y2="192.94" stroke="#464680" stroke-width="1.5"/><line x1="55" y1="183.54" x2="66.00" y2="183.54" stroke="#464680" stroke-width="1.5"/><line x1="597.8" y1="183.54" x2="586.80" y2="183.54" stroke="#464680" stroke-width="1.5"/><line x1="55" y1="174.14" x2="60.50" y2="174.14" stroke="#464680" stroke-width="1.5"/><line x1="597.8" y1="174.14" x2="592.30" y2="174.14" stroke="#464680" stroke-width="1.5"/><line x1="55" y1="164.75" x2="60.50" y2="164.75" stroke="#464680" stroke-width="1.5"/><line x1="597.8" y1="164.75" x2="592.30" y2="164.75" stroke="#464680" stroke-width="1.5"/><line x1="55" y1="155.35" x2="60.50" y2="155.35" stroke="#464680" stroke-width="1.5"/><line x1="597.8" y1="155.35" x2="592.30" y2="155.35" stroke="#464680" stroke-width="1.5"/><line x1="55" y1="145.96" x2="60.50" y2="145.96" stroke="#464680" stroke-width="1.5"/><line x1="597.8" y1="145.96" x2="592.30" y2="145.96" stroke="#464680" stroke-width="1.5"/><line x1="55" y1="136.56" x2="66.00" y2="136.56" stroke="#464680" stroke-width="1.5"/><line x1="597.8" y1="136.56" x2="586.80" y2="136.56" stroke="#464680" stroke-width="1.5"/><line x1="55" y1="127.16" x2="60.50" y2="127.16" stroke="#464680" stroke-width="1.5"/><line x1="597.8" y1="127.16" x2="592.30" y2="127.16" stroke="#464680" stroke-width="1.5"/><line x1="55" y1="117.77" x2="60.50" y2="117.77" stroke="#464680" stroke-width="1.5"/><line x1="597.8" y1="117.77" x2="592.30" y2="117.77" stroke="#464680" stroke-width="1.5"/><line x1="55" y1="108.37" x2="60.50" y2="108.37" stroke="#464680" stroke-width="1.5"/><line x1="597.8" y1="108.37" x2="592.30" y2="108.37" stroke="#464680" stroke-width="1.5"/><line x1="55" y1="98.98" x2="60.50" y2="98.98" stroke="#464680" stroke-width="1.5"/><line x1="597.8" y1="98.98" x2="592.30" y2="98.98" stroke="#464680" stroke-width="1.5"/><line x1="55" y1="89.58" x2="66.00" y2="89.58" stroke="#464680" stroke-width="1.5"/><line x1="597.8" y1="89.58" x2="586.80" y2="89.58" stroke="#464680" stroke-width="1.5"/><line x1="55" y1="80.18" x2="60.50" y2="80.18" stroke="#464680" stroke-width="1.5"/><line x1="597.8" y1="80.18" x2="592.30" y2="80.18" stroke="#464680" stroke-width="1.5"/><line x1="55" y1="70.79" x2="60.50" y2="70.79" stroke="#464680" stroke-width="1.5"/><line x1="597.8" y1="70.79" x2="592.30" y2="70.79" stroke="#464680" stroke-width="1.5"/><line x1="55" y1="61.39" x2="60.50" y2="61.39" stroke="#464680" stroke-width="1.5"/><line x1="597.8" y1="61.39" x2="592.30" y2="61.39" stroke="#464680" stroke-width="1.5"/><line x1="55" y1="52.00" x2="60.50" y2="52.00" stroke="#464680" stroke-width="1.5"/><line x1="597.8" y1="52.00" x2="592.30" y2="52.00" stroke="#464680" stroke-width="1.5"/><line x1="55" y1="42.60" x2="66.00" y2="42.60" stroke="#464680" stroke-width="1.5"/><line x1="597.8" y1="42.60" x2="586.80" y2="42.60" stroke="#464680" stroke-width="1.5"/><line x1="55" y1="33.20" x2="60.50" y2="33.20" stroke="#464680" stroke-width="1.5"/><line x1="597.8" y1="33.20" x2="592.30" y2="33.20" stroke="#464680" stroke-width="1.5"/><line x1="55" y1="23.81" x2="60.50" y2="23.81" stroke="#464680" stroke-width="1.5"/><line x1="597.8" y1="23.81" x2="592.30" y2="23.81" stroke="#464680" stroke-width="1.5"/><line x1="55" y1="14.41" x2="60.50" y2="14.41" stroke="#464680" stroke-width="1.5"/><line x1="597.8" y1="14.41" x2="592.30" y2="14.41" stroke="#464680" stroke-width="1.5"/><line x1="55" y1="5.02" x2="60.50" y2="5.02" stroke="#464680" stroke-width="1.5"/><line x1="597.8" y1="5.02" x2="592.30" y2="5.02" stroke="#464680" stroke-width="1.5"/><line x1="69.86" y1="1.9" x2="69.86" y2="4.90" stroke="#464680" stroke-width="1.4"/><line x1="69.86" y1="289" x2="69.86" y2="286.00" stroke="#5f5cab" stroke-width="1.2"/><line x1="83.80" y1="1.9" x2="83.80" y2="4.90" stroke="#464680" stroke-width="1.4"/><line x1="83.80" y1="289" x2="83.80" y2="286.00" stroke="#5f5cab" stroke-width="1.2"/><line x1="97.74" y1="1.9" x2="97.74" y2="4.90" stroke="#464680" stroke-width="1.4"/><line x1="97.74" y1="289" x2="97.74" y2="286.00" stroke="#5f5cab" stroke-width="1.2"/><line x1="111.68" y1="1.9" x2="111.68" y2="4.90" stroke="#464680" stroke-width="1.4"/><line x1="111.68" y1="289" x2="111.68" y2="286.00" stroke="#5f5cab" stroke-width="1.2"/><line x1="125.62" y1="1.9" x2="125.62" y2="4.90" stroke="#464680" stroke-width="1.4"/><line x1="125.62" y1="289" x2="125.62" y2="286.00" stroke="#5f5cab" stroke-width="1.2"/><line x1="139.56" y1="1.9" x2="139.56" y2="4.90" stroke="#464680" stroke-width="1.4"/><line x1="139.56" y1="289" x2="139.56" y2="286.00" stroke="#5f5cab" stroke-width="1.2"/><line x1="153.50" y1="1.9" x2="153.50" y2="7.90" stroke="#464680" stroke-width="1.4"/><line x1="153.50" y1="289" x2="153.50" y2="283.00" stroke="#5f5cab" stroke-width="1.2"/><line x1="167.44" y1="1.9" x2="167.44" y2="4.90" stroke="#464680" stroke-width="1.4"/><line x1="167.44" y1="289" x2="167.44" y2="286.00" stroke="#5f5cab" stroke-width="1.2"/><line x1="181.38" y1="1.9" x2="181.38" y2="4.90" stroke="#464680" stroke-width="1.4"/><line x1="181.38" y1="289" x2="181.38" y2="286.00" stroke="#5f5cab" stroke-width="1.2"/><line x1="195.32" y1="1.9" x2="195.32" y2="4.90" stroke="#464680" stroke-width="1.4"/><line x1="195.32" y1="289" x2="195.32" y2="286.00" stroke="#5f5cab" stroke-width="1.2"/><line x1="209.26" y1="1.9" x2="209.26" y2="4.90" stroke="#464680" stroke-width="1.4"/><line x1="209.26" y1="289" x2="209.26" y2="286.00" stroke="#5f5cab" stroke-width="1.2"/><line x1="223.20" y1="1.9" x2="223.20" y2="4.90" stroke="#464680" stroke-width="1.4"/><line x1="223.20" y1="289" x2="223.20" y2="286.00" stroke="#5f5cab" stroke-width="1.2"/><line x1="237.14" y1="1.9" x2="237.14" y2="4.90" stroke="#464680" stroke-width="1.4"/><line x1="237.14" y1="289" x2="237.14" y2="286.00" stroke="#5f5cab" stroke-width="1.2"/><line x1="251.08" y1="1.9" x2="251.08" y2="4.90" stroke="#464680" stroke-width="1.4"/><line x1="251.08" y1="289" x2="251.08" y2="286.00" stroke="#5f5cab" stroke-width="1.2"/><line x1="265.02" y1="1.9" x2="265.02" y2="4.90" stroke="#464680" stroke-width="1.4"/><line x1="265.02" y1="289" x2="265.02" y2="286.00" stroke="#5f5cab" stroke-width="1.2"/><line x1="278.96" y1="1.9" x2="278.96" y2="4.90" stroke="#464680" stroke-width="1.4"/><line x1="278.96" y1="289" x2="278.96" y2="286.00" stroke="#5f5cab" stroke-width="1.2"/><line x1="292.90" y1="1.9" x2="292.90" y2="7.90" stroke="#464680" stroke-width="1.4"/><line x1="292.90" y1="289" x2="292.90" y2="283.00" stroke="#5f5cab" stroke-width="1.2"/><line x1="306.84" y1="1.9" x2="306.84" y2="4.90" stroke="#464680" stroke-width="1.4"/><line x1="306.84" y1="289" x2="306.84" y2="286.00" stroke="#5f5cab" stroke-width="1.2"/><line x1="320.78" y1="1.9" x2="320.78" y2="4.90" stroke="#464680" stroke-width="1.4"/><line x1="320.78" y1="289" x2="320.78" y2="286.00" stroke="#5f5cab" stroke-width="1.2"/><line x1="334.72" y1="1.9" x2="334.72" y2="4.90" stroke="#464680" stroke-width="1.4"/><line x1="334.72" y1="289" x2="334.72" y2="286.00" stroke="#5f5cab" stroke-width="1.2"/><line x1="348.66" y1="1.9" x2="348.66" y2="4.90" stroke="#464680" stroke-width="1.4"/><line x1="348.66" y1="289" x2="348.66" y2="286.00" stroke="#5f5cab" stroke-width="1.2"/><line x1="362.60" y1="1.9" x2="362.60" y2="4.90" stroke="#464680" stroke-width="1.4"/><line x1="362.60" y1="289" x2="362.60" y2="286.00" stroke="#5f5cab" stroke-width="1.2"/><line x1="376.54" y1="1.9" x2="376.54" y2="4.90" stroke="#464680" stroke-width="1.4"/><line x1="376.54" y1="289" x2="376.54" y2="286.00" stroke="#5f5cab" stroke-width="1.2"/><line x1="390.48" y1="1.9" x2="390.48" y2="4.90" stroke="#464680" stroke-width="1.4"/><line x1="390.48" y1="289" x2="390.48" y2="286.00" stroke="#5f5cab" stroke-width="1.2"/><line x1="404.42" y1="1.9" x2="404.42" y2="4.90" stroke="#464680" stroke-width="1.4"/><line x1="404.42" y1="289" x2="404.42" y2="286.00" stroke="#5f5cab" stroke-width="1.2"/><line x1="418.36" y1="1.9" x2="418.36" y2="4.90" stroke="#464680" stroke-width="1.4"/><line x1="418.36" y1="289" x2="418.36" y2="286.00" stroke="#5f5cab" stroke-width="1.2"/><line x1="432.30" y1="1.9" x2="432.30" y2="7.90" stroke="#464680" stroke-width="1.4"/><line x1="432.30" y1="289" x2="432.30" y2="283.00" stroke="#5f5cab" stroke-width="1.2"/><line x1="446.24" y1="1.9" x2="446.24" y2="4.90" stroke="#464680" stroke-width="1.4"/><line x1="446.24" y1="289" x2="446.24" y2="286.00" stroke="#5f5cab" stroke-width="1.2"/><line x1="460.18" y1="1.9" x2="460.18" y2="4.90" stroke="#464680" stroke-width="1.4"/><line x1="460.18" y1="289" x2="460.18" y2="286.00" stroke="#5f5cab" stroke-width="1.2"/><line x1="474.12" y1="1.9" x2="474.12" y2="4.90" stroke="#464680" stroke-width="1.4"/><line x1="474.12" y1="289" x2="474.12" y2="286.00" stroke="#5f5cab" stroke-width="1.2"/><line x1="488.06" y1="1.9" x2="488.06" y2="4.90" stroke="#464680" stroke-width="1.4"/><line x1="488.06" y1="289" x2="488.06" y2="286.00" stroke="#5f5cab" stroke-width="1.2"/><line x1="502.00" y1="1.9" x2="502.00" y2="4.90" stroke="#464680" stroke-width="1.4"/><line x1="502.00" y1="289" x2="502.00" y2="286.00" stroke="#5f5cab" stroke-width="1.2"/><line x1="515.94" y1="1.9" x2="515.94" y2="4.90" stroke="#464680" stroke-width="1.4"/><line x1="515.94" y1="289" x2="515.94" y2="286.00" stroke="#5f5cab" stroke-width="1.2"/><line x1="529.88" y1="1.9" x2="529.88" y2="4.90" stroke="#464680" stroke-width="1.4"/><line x1="529.88" y1="289" x2="529.88" y2="286.00" stroke="#5f5cab" stroke-width="1.2"/><line x1="543.82" y1="1.9" x2="543.82" y2="4.90" stroke="#464680" stroke-width="1.4"/><line x1="543.82" y1="289" x2="543.82" y2="286.00" stroke="#5f5cab" stroke-width="1.2"/><line x1="557.76" y1="1.9" x2="557.76" y2="4.90" stroke="#464680" stroke-width="1.4"/><line x1="557.76" y1="289" x2="557.76" y2="286.00" stroke="#5f5cab" stroke-width="1.2"/><line x1="571.70" y1="1.9" x2="571.70" y2="7.90" stroke="#464680" stroke-width="1.4"/><line x1="571.70" y1="289" x2="571.70" y2="283.00" stroke="#5f5cab" stroke-width="1.2"/><line x1="585.64" y1="1.9" x2="585.64" y2="4.90" stroke="#464680" stroke-width="1.4"/><line x1="585.64" y1="289" x2="585.64" y2="286.00" stroke="#5f5cab" stroke-width="1.2"/>
<line x1="189.1" y1="187.09" x2="189.1" y2="205.21" stroke="#1a1a1a" stroke-width="0.55"/><path d="M189.1,186.60 L190.30,189.43 L189.1,190.79 L187.90,189.43Z M189.1,194.30 L190.30,196.20 L189.1,198.10 L187.90,196.20Z M189.1,201.51 L190.30,202.87 L189.1,205.70 L187.90,202.87Z" fill="#1a1a1a"/><rect x="186.50" y="191.31" width="5.2" height="1.3" fill="#1a1a1a"/><rect x="186.50" y="199.40" width="5.2" height="1.3" fill="#1a1a1a"/><line x1="203.2" y1="201.68" x2="203.2" y2="219.62" stroke="#1a1a1a" stroke-width="0.55"/><path d="M203.2,201.20 L204.40,204.00 L203.2,205.35 L202.00,204.00Z M203.2,208.82 L204.40,210.70 L203.2,212.58 L202.00,210.70Z M203.2,215.95 L204.40,217.30 L203.2,220.10 L202.00,217.30Z" fill="#1a1a1a"/><rect x="200.60" y="205.85" width="5.2" height="1.3" fill="#1a1a1a"/><rect x="200.60" y="213.86" width="5.2" height="1.3" fill="#1a1a1a"/><line x1="231.3" y1="157.50" x2="231.3" y2="176.10" stroke="#1a1a1a" stroke-width="0.55"/><path d="M231.3,157.00 L232.50,159.90 L231.3,161.30 L230.10,159.90Z M231.3,164.90 L232.50,166.85 L231.3,168.80 L230.10,166.85Z M231.3,172.30 L232.50,173.70 L231.3,176.60 L230.10,173.70Z" fill="#1a1a1a"/><rect x="228.70" y="161.85" width="5.2" height="1.3" fill="#1a1a1a"/><rect x="228.70" y="170.15" width="5.2" height="1.3" fill="#1a1a1a"/><line x1="248.2" y1="196.79" x2="248.2" y2="215.01" stroke="#1a1a1a" stroke-width="0.55"/><path d="M248.2,196.30 L249.40,199.14 L248.2,200.51 L247.00,199.14Z M248.2,204.04 L249.40,205.95 L248.2,207.86 L247.00,205.95Z M248.2,211.29 L249.40,212.66 L248.2,215.50 L247.00,212.66Z" fill="#1a1a1a"/><rect x="245.60" y="201.04" width="5.2" height="1.3" fill="#1a1a1a"/><rect x="245.60" y="209.17" width="5.2" height="1.3" fill="#1a1a1a"/><line x1="263.7" y1="230.36" x2="263.7" y2="247.44" stroke="#1a1a1a" stroke-width="0.55"/><path d="M263.7,229.90 L264.90,232.56 L263.7,233.85 L262.50,232.56Z M263.7,237.16 L264.90,238.95 L263.7,240.74 L262.50,238.95Z M263.7,243.95 L264.90,245.24 L263.7,247.90 L262.50,245.24Z" fill="#1a1a1a"/><rect x="261.10" y="234.30" width="5.2" height="1.3" fill="#1a1a1a"/><rect x="261.10" y="241.92" width="5.2" height="1.3" fill="#1a1a1a"/><line x1="272.2" y1="218.79" x2="272.2" y2="237.11" stroke="#1a1a1a" stroke-width="0.55"/><path d="M272.2,218.30 L273.40,221.16 L272.2,222.53 L271.00,221.16Z M272.2,226.08 L273.40,228.00 L272.2,229.92 L271.00,228.00Z M272.2,233.37 L273.40,234.74 L272.2,237.60 L271.00,234.74Z" fill="#1a1a1a"/><rect x="269.60" y="223.07" width="5.2" height="1.3" fill="#1a1a1a"/><rect x="269.60" y="231.24" width="5.2" height="1.3" fill="#1a1a1a"/><line x1="289.4" y1="176.00" x2="289.4" y2="194.60" stroke="#1a1a1a" stroke-width="0.55"/><path d="M289.4,175.50 L290.60,178.40 L289.4,179.80 L288.20,178.40Z M289.4,183.40 L290.60,185.35 L289.4,187.30 L288.20,185.35Z M289.4,190.80 L290.60,192.20 L289.4,195.10 L288.20,192.20Z" fill="#1a1a1a"/><rect x="286.80" y="180.35" width="5.2" height="1.3" fill="#1a1a1a"/><rect x="286.80" y="188.65" width="5.2" height="1.3" fill="#1a1a1a"/><line x1="333.0" y1="230.10" x2="333.0" y2="248.80" stroke="#1a1a1a" stroke-width="0.55"/><path d="M333.0,229.60 L334.20,232.51 L333.0,233.92 L331.80,232.51Z M333.0,237.54 L334.20,239.50 L333.0,241.46 L331.80,239.50Z M333.0,244.98 L334.20,246.39 L333.0,249.30 L331.80,246.39Z" fill="#1a1a1a"/><rect x="330.40" y="234.48" width="5.2" height="1.3" fill="#1a1a1a"/><rect x="330.40" y="242.82" width="5.2" height="1.3" fill="#1a1a1a"/><line x1="346.6" y1="228.50" x2="346.6" y2="247.10" stroke="#1a1a1a" stroke-width="0.55"/><path d="M346.6,228.00 L347.80,230.90 L346.6,232.30 L345.40,230.90Z M346.6,235.90 L347.80,237.85 L346.6,239.80 L345.40,237.85Z M346.6,243.30 L347.80,244.70 L346.6,247.60 L345.40,244.70Z" fill="#1a1a1a"/><rect x="344.00" y="232.85" width="5.2" height="1.3" fill="#1a1a1a"/><rect x="344.00" y="241.15" width="5.2" height="1.3" fill="#1a1a1a"/>
<g stroke="#000" stroke-width="0.32"><text transform="translate(28.8,76.2) rotate(-90)" text-anchor="middle" font-size="13.8" fill="#000" font-family="Liberation Sans, sans-serif">[arbitary units]</text><text transform="translate(9.8,184.9) rotate(-90)" text-anchor="middle" font-size="13.6" fill="#000" font-family="Liberation Sans, sans-serif">Flux density</text><text transform="translate(27.8,189.9) rotate(-90)" text-anchor="middle" font-size="13.5" fill="#000" font-family="Liberation Sans, sans-serif">[10<tspan font-size="8" dy="-5">-17</tspan><tspan dy="5"> W m</tspan><tspan font-size="8" dy="-5">-2</tspan><tspan dy="5"> (cm</tspan><tspan font-size="8" dy="-5">-1</tspan><tspan dy="5">)</tspan><tspan font-size="8" dy="-5">-1</tspan><tspan dy="5">]</tspan></text><text x="132.4" y="32" font-size="13" fill="#cf2149" stroke="#cf2149" font-family="Liberation Sans, sans-serif">CH<tspan font-size="8" dy="3.8">3</tspan><tspan dy="-3.8">D</tspan></text><text x="172" y="31.8" font-size="13" fill="#cf2149" stroke="#cf2149" font-family="Liberation Sans, sans-serif">model</text><text x="233" y="66.4" text-anchor="middle" font-size="14.8" fill="#000" stroke-width="0.55" font-family="Liberation Sans, sans-serif">x</text><text x="287.5" y="77.9" text-anchor="middle" font-size="14.8" fill="#000" stroke-width="0.55" font-family="Liberation Sans, sans-serif">x</text><text x="503" y="89.9" text-anchor="middle" font-size="14.8" fill="#000" stroke-width="0.55" font-family="Liberation Sans, sans-serif">x</text><text x="560" y="99.9" text-anchor="middle" font-size="14.8" fill="#000" stroke-width="0.55" font-family="Liberation Sans, sans-serif">x</text><text x="85.6" y="142" font-size="12" fill="#000" stroke-width="0.5" textLength="67.2" lengthAdjust="spacingAndGlyphs" font-family="Liberation Sans, sans-serif">19 Jan. 2005</text><text x="292.2" y="142.3" font-size="13" fill="#000" font-family="Liberation Sans, sans-serif">CH<tspan font-size="8" dy="3.5">4</tspan><tspan dy="-3.5"> (R1)</tspan></text><text x="423.2" y="143" font-size="13" fill="#000" font-family="Liberation Sans, sans-serif">CH<tspan font-size="8" dy="3.5">4</tspan><tspan dy="-3.5"> (R0)</tspan></text><text x="259.6" y="188.8" font-size="12" fill="#000" stroke-width="0.12" font-family="Liberation Sans, sans-serif">OH</text><text x="288.7" y="242.7" text-anchor="middle" font-size="12" fill="#000" stroke-width="0" font-family="Liberation Sans, sans-serif">?</text><text x="162.5" y="213.3" font-size="9" fill="#3fae5a" stroke="#3fae5a" stroke-width="0.2" font-family="Liberation Sans, sans-serif">CH<tspan font-size="6" dy="2">4</tspan></text><text x="162.7" y="224.3" font-size="9" fill="#3fae5a" stroke="#3fae5a" stroke-width="0.2" font-family="Liberation Sans, sans-serif">(R2)</text><text transform="translate(473.3,232.0) rotate(-90)" text-anchor="middle" font-size="10.6" fill="#000" stroke-width="0.1" font-family="Liberation Sans, sans-serif">CH<tspan font-size="6.2" dy="2.6">3</tspan><tspan dy="-2.6">OH</tspan></text><text transform="translate(528.3,217.0) rotate(-90)" text-anchor="middle" font-size="10.6" fill="#000" stroke-width="0.1" font-family="Liberation Sans, sans-serif">CH<tspan font-size="6.2" dy="2.6">3</tspan><tspan dy="-2.6">OH</tspan></text><path d="M47.4,178.0 L47.4,187.6" stroke="#000" stroke-width="1.9" fill="none"/><path d="M47.6,178.0 C46.9,179.6 45.8,180.2 44.2,180.6" stroke="#000" stroke-width="1.5" fill="none"/><text x="50" y="281.3" text-anchor="end" font-size="13" fill="#000" font-family="Liberation Sans, sans-serif">0</text><text x="155" y="304.6" text-anchor="middle" font-size="13.3" fill="#000" font-family="Liberation Sans, sans-serif">3050</text><text x="292.5" y="304.6" text-anchor="middle" font-size="13.3" fill="#000" font-family="Liberation Sans, sans-serif">3040</text><text x="433.8" y="304.6" text-anchor="middle" font-size="13.3" fill="#000" font-family="Liberation Sans, sans-serif">3030</text><text x="570.8" y="304.6" text-anchor="middle" font-size="13.3" fill="#000" font-family="Liberation Sans, sans-serif">3020</text><text x="260.2" y="326" font-size="15" fill="#000" font-family="Liberation Sans, sans-serif" textLength="157.5" lengthAdjust="spacing">Rest Frequency [cm<tspan font-size="9" dy="-5.5">-1</tspan><tspan dy="5.5">]</tspan></text></g>
</svg>
</body></html>
